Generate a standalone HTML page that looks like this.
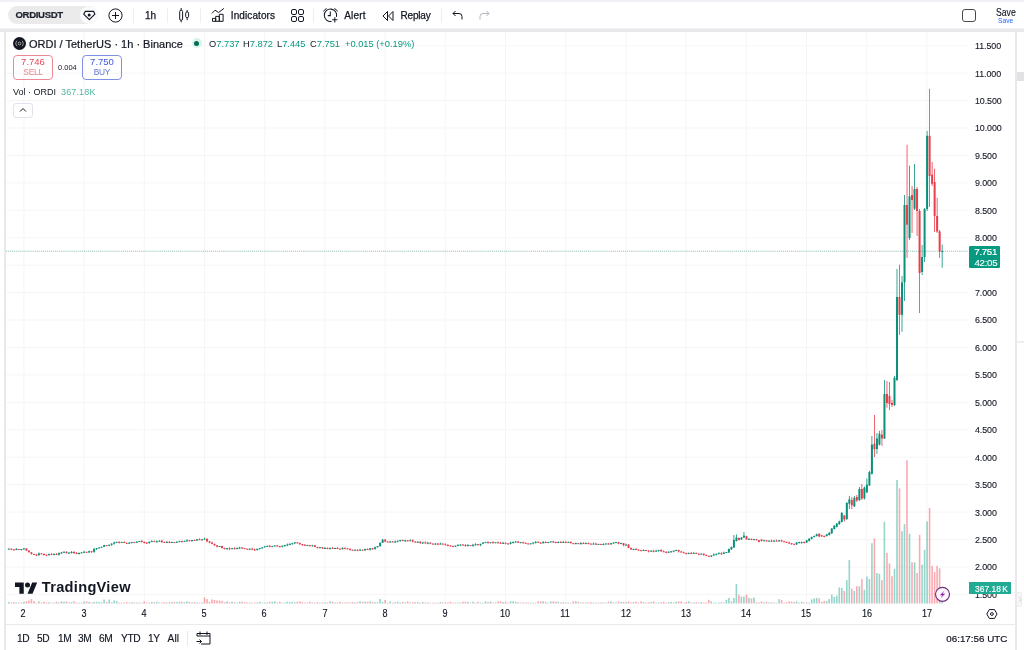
<!DOCTYPE html>
<html><head><meta charset="utf-8">
<style>
*{box-sizing:border-box;margin:0;padding:0}
html,body{width:1024px;height:650px;overflow:hidden;background:#fff;font-family:"Liberation Sans",sans-serif;color:#131722}
.a{position:absolute;white-space:nowrap}
#topstrip{position:absolute;left:0;top:0;width:1024px;height:2px;background:#f1f0f5}
#gap{position:absolute;left:0;top:29px;width:1024px;height:3px;background:#e8e8eb;box-shadow:0 -1px 0 #f2f2f4}
#lline{position:absolute;left:4px;top:29px;width:2px;height:621px;background:#e9e9ec}
#rline{position:absolute;left:1015px;top:29px;width:2px;height:621px;background:#e9e9ec}
.sep{position:absolute;top:8px;width:1px;height:15px;background:#eeeef1}
.tb{font-size:11px;color:#131722;-webkit-text-stroke:0.25px #131722}
.pl{position:absolute;left:974.8px;font-size:9.9px;letter-spacing:-0.1px;transform:scaleX(0.9);transform-origin:0 0;color:#131722;-webkit-text-stroke:0.12px #131722}
.tl{position:absolute;top:608.1px;width:30px;text-align:center;font-size:10.3px;transform:scaleX(0.88);color:#131722;-webkit-text-stroke:0.15px #131722}
.ohlc{top:38.5px;font-size:9.3px;color:#089981}
.bb{position:absolute;top:633.4px;font-size:10.2px;letter-spacing:-0.35px;color:#131722;-webkit-text-stroke:0.15px #131722}
body{filter:blur(0.5px)}
</style></head><body>
<div id="topstrip"></div>

<!-- symbol pill -->
<div class="a" style="left:8px;top:6px;width:90px;height:18px;border-radius:9px;background:#ebebeb"></div>
<div class="a" style="left:15.5px;top:9.2px;font-size:9.6px;font-weight:700;letter-spacing:-0.35px;color:#1e222d;-webkit-text-stroke:0.2px #1e222d">ORDIUSDT</div>
<div class="a" style="left:80px;top:6px;width:18px;height:18px;border-radius:9px;background:#fafafa"></div>
<svg class="a" style="left:83px;top:10px" width="13" height="11" viewBox="0 0 13 11"><path d="M2.3 1.4 H10.7 L11.9 4.2 L6.3 9.6 L0.7 4.2 Z" fill="none" stroke="#131722" stroke-width="1.15" stroke-linejoin="round"/><circle cx="6.2" cy="4.9" r="1.5" fill="#131722"/></svg>
<!-- plus circle -->
<svg class="a" style="left:108px;top:8px" width="15" height="15" viewBox="0 0 15 15"><circle cx="7.5" cy="7.5" r="6.6" fill="none" stroke="#131722" stroke-width="1"/><path d="M7.5 4v7M4 7.5h7" stroke="#131722" stroke-width="1"/></svg>
<div class="sep" style="left:133px"></div>
<div class="a tb" style="left:145px;top:9.5px;font-size:10px">1h</div>
<div class="sep" style="left:167px"></div>
<!-- candle icon -->
<svg class="a" style="left:178px;top:7px" width="13" height="17" viewBox="0 0 13 17"><rect x="1.7" y="3.3" width="2.9" height="9.9" rx="1.2" fill="none" stroke="#131722" stroke-width="1"/><path d="M3.15 1v2.3M3.15 13.2v2.2" stroke="#131722" stroke-width="1"/><rect x="7.7" y="5" width="2.9" height="5.6" rx="1.2" fill="none" stroke="#131722" stroke-width="1"/><path d="M9.15 3v2M9.15 10.6v2.6" stroke="#131722" stroke-width="1"/></svg>
<div class="sep" style="left:200px"></div>
<!-- indicators icon -->
<svg class="a" style="left:211px;top:7px" width="14" height="16" viewBox="0 0 14 16"><path d="M0.9 6.4 L4.1 3.2 L7.6 5.5 L12.9 1.4" fill="none" stroke="#131722" stroke-width="1"/><path d="M1.5 14.3V11.4h3.2v2.9M4.7 14.3V9.4h3.6v4.9M8.3 14.3V7.3h3.8v7H1.5" fill="none" stroke="#131722" stroke-width="1"/></svg>
<div class="a tb" style="left:230.8px;top:10.2px;font-size:10px;letter-spacing:0.1px">Indicators</div>
<!-- layout grid icon -->
<svg class="a" style="left:290.7px;top:9px" width="13" height="13" viewBox="0 0 13 13"><rect x="0.5" y="0.5" width="5" height="5" rx="1.5" fill="none" stroke="#131722"/><rect x="7.5" y="0.5" width="5" height="5" rx="1.5" fill="none" stroke="#131722"/><rect x="0.5" y="7.5" width="5" height="5" rx="1.5" fill="none" stroke="#131722"/><rect x="7.5" y="7.5" width="5" height="5" rx="1.5" fill="none" stroke="#131722"/></svg>
<div class="sep" style="left:313px"></div>
<!-- alert icon -->
<svg class="a" style="left:322px;top:6px" width="18" height="18" viewBox="0 0 18 18"><path d="M14.49 10.9 A6.2 6.2 0 1 0 9.58 15.4" fill="none" stroke="#131722" stroke-width="1.05"/><path d="M8.3 5.6V9.6H5.8" fill="none" stroke="#131722" stroke-width="1.05"/><path d="M1.5 5.4 Q2.5 3.3 4.6 2.6M12.4 2.6 Q14.5 3.3 15.5 5.4" fill="none" stroke="#131722" stroke-width="1"/><path d="M12.8 11.2v5.2M10.2 13.8h5.2" stroke="#131722" stroke-width="1.05"/></svg>
<div class="a tb" style="left:344.2px;top:10.2px;font-size:10px;letter-spacing:0.2px">Alert</div>
<!-- replay icon -->
<svg class="a" style="left:382px;top:10px" width="12" height="12" viewBox="0 0 12 12"><path d="M5.5 1.5 L1 6 L5.5 10.5 Z M11 1.5 L6.5 6 L11 10.5 Z" fill="none" stroke="#131722" stroke-width="1" stroke-linejoin="round"/></svg>
<div class="a tb" style="left:400.5px;top:10.2px;font-size:10px;letter-spacing:-0.2px">Replay</div>
<div class="sep" style="left:441px"></div>
<!-- undo/redo -->
<svg class="a" style="left:452px;top:10px" width="11" height="10" viewBox="0 0 11 10"><path d="M3.5 1 L1 3.5 L3.5 6 M1 3.5 H7 A3 3 0 0 1 10 6.5 V9.5" fill="none" stroke="#131722" stroke-width="1"/></svg>
<svg class="a" style="left:479px;top:10px" width="11" height="10" viewBox="0 0 11 10"><path d="M7.5 1 L10 3.5 L7.5 6 M10 3.5 H4 A3 3 0 0 0 1 6.5 V9.5" fill="none" stroke="#b2b5be" stroke-width="1"/></svg>
<!-- right -->
<div class="a" style="left:962px;top:9px;width:14px;height:13px;border:1.4px solid #4a4a4a;border-radius:3px"></div>
<div class="a" style="left:995.6px;top:6.2px;font-size:10.8px;color:#131722;transform:scaleX(0.8);transform-origin:0 0;-webkit-text-stroke:0.15px #131722">Save</div>
<div class="a" style="left:998.2px;top:16.8px;font-size:7px;color:#2962ff;transform:scaleX(0.95);transform-origin:0 0">Save</div>

<div id="gap"></div>
<div id="lline"></div>
<div id="rline"></div>

<!-- chart svg -->
<svg class="a" style="left:0;top:0" width="1024" height="650" viewBox="0 0 1024 650">
<rect x="6" y="32" width="1009" height="592" fill="#fff"/>
<rect x="23.4" y="32" width="1" height="572" fill="#f5f5f6"/>
<rect x="83.6" y="32" width="1" height="572" fill="#f5f5f6"/>
<rect x="143.8" y="32" width="1" height="572" fill="#f5f5f6"/>
<rect x="204.0" y="32" width="1" height="572" fill="#f5f5f6"/>
<rect x="264.2" y="32" width="1" height="572" fill="#f5f5f6"/>
<rect x="324.4" y="32" width="1" height="572" fill="#f5f5f6"/>
<rect x="384.6" y="32" width="1" height="572" fill="#f5f5f6"/>
<rect x="444.8" y="32" width="1" height="572" fill="#f5f5f6"/>
<rect x="505.0" y="32" width="1" height="572" fill="#f5f5f6"/>
<rect x="565.2" y="32" width="1" height="572" fill="#f5f5f6"/>
<rect x="625.4" y="32" width="1" height="572" fill="#f5f5f6"/>
<rect x="685.6" y="32" width="1" height="572" fill="#f5f5f6"/>
<rect x="745.8" y="32" width="1" height="572" fill="#f5f5f6"/>
<rect x="806.0" y="32" width="1" height="572" fill="#f5f5f6"/>
<rect x="866.2" y="32" width="1" height="572" fill="#f5f5f6"/>
<rect x="926.4" y="32" width="1" height="572" fill="#f5f5f6"/>
<rect x="6" y="45.2" width="962" height="1" fill="#f5f5f6"/>
<rect x="6" y="72.6" width="962" height="1" fill="#f5f5f6"/>
<rect x="6" y="100.1" width="962" height="1" fill="#f5f5f6"/>
<rect x="6" y="127.5" width="962" height="1" fill="#f5f5f6"/>
<rect x="6" y="154.9" width="962" height="1" fill="#f5f5f6"/>
<rect x="6" y="182.4" width="962" height="1" fill="#f5f5f6"/>
<rect x="6" y="209.8" width="962" height="1" fill="#f5f5f6"/>
<rect x="6" y="237.2" width="962" height="1" fill="#f5f5f6"/>
<rect x="6" y="264.7" width="962" height="1" fill="#f5f5f6"/>
<rect x="6" y="292.1" width="962" height="1" fill="#f5f5f6"/>
<rect x="6" y="319.5" width="962" height="1" fill="#f5f5f6"/>
<rect x="6" y="347.0" width="962" height="1" fill="#f5f5f6"/>
<rect x="6" y="374.4" width="962" height="1" fill="#f5f5f6"/>
<rect x="6" y="401.9" width="962" height="1" fill="#f5f5f6"/>
<rect x="6" y="429.3" width="962" height="1" fill="#f5f5f6"/>
<rect x="6" y="456.7" width="962" height="1" fill="#f5f5f6"/>
<rect x="6" y="484.2" width="962" height="1" fill="#f5f5f6"/>
<rect x="6" y="511.6" width="962" height="1" fill="#f5f5f6"/>
<rect x="6" y="539.0" width="962" height="1" fill="#f5f5f6"/>
<rect x="6" y="566.5" width="962" height="1" fill="#f5f5f6"/>
<rect x="6" y="593.9" width="962" height="1" fill="#f5f5f6"/>
<rect x="8.0" y="602.0" width="1.6" height="1.5" fill="rgba(8,153,129,0.42)"/>
<rect x="10.5" y="602.5" width="1.6" height="1.0" fill="rgba(242,54,69,0.42)"/>
<rect x="13.0" y="602.0" width="1.6" height="1.5" fill="rgba(242,54,69,0.42)"/>
<rect x="15.5" y="602.5" width="1.6" height="1.0" fill="rgba(8,153,129,0.42)"/>
<rect x="18.0" y="602.5" width="1.6" height="1.0" fill="rgba(242,54,69,0.42)"/>
<rect x="20.6" y="602.5" width="1.6" height="1.0" fill="rgba(8,153,129,0.42)"/>
<rect x="23.1" y="602.0" width="1.6" height="1.5" fill="rgba(8,153,129,0.42)"/>
<rect x="25.6" y="601.3" width="1.6" height="2.2" fill="rgba(242,54,69,0.42)"/>
<rect x="28.1" y="600.5" width="1.6" height="3.0" fill="rgba(242,54,69,0.42)"/>
<rect x="30.6" y="599.0" width="1.6" height="4.5" fill="rgba(242,54,69,0.42)"/>
<rect x="33.1" y="601.0" width="1.6" height="2.5" fill="rgba(242,54,69,0.42)"/>
<rect x="35.6" y="602.7" width="1.6" height="0.8" fill="rgba(242,54,69,0.42)"/>
<rect x="38.1" y="601.3" width="1.6" height="2.2" fill="rgba(8,153,129,0.42)"/>
<rect x="40.6" y="602.5" width="1.6" height="1.0" fill="rgba(242,54,69,0.42)"/>
<rect x="43.1" y="601.7" width="1.6" height="1.8" fill="rgba(242,54,69,0.42)"/>
<rect x="45.6" y="602.5" width="1.6" height="1.0" fill="rgba(242,54,69,0.42)"/>
<rect x="48.2" y="602.2" width="1.6" height="1.3" fill="rgba(8,153,129,0.42)"/>
<rect x="50.7" y="602.7" width="1.6" height="0.8" fill="rgba(242,54,69,0.42)"/>
<rect x="53.2" y="602.7" width="1.6" height="0.8" fill="rgba(8,153,129,0.42)"/>
<rect x="55.7" y="601.7" width="1.6" height="1.8" fill="rgba(242,54,69,0.42)"/>
<rect x="58.2" y="602.5" width="1.6" height="1.0" fill="rgba(8,153,129,0.42)"/>
<rect x="60.7" y="601.3" width="1.6" height="2.2" fill="rgba(8,153,129,0.42)"/>
<rect x="63.2" y="601.7" width="1.6" height="1.8" fill="rgba(8,153,129,0.42)"/>
<rect x="65.7" y="601.3" width="1.6" height="2.2" fill="rgba(242,54,69,0.42)"/>
<rect x="68.2" y="602.5" width="1.6" height="1.0" fill="rgba(8,153,129,0.42)"/>
<rect x="70.7" y="602.2" width="1.6" height="1.3" fill="rgba(8,153,129,0.42)"/>
<rect x="73.2" y="601.3" width="1.6" height="2.2" fill="rgba(242,54,69,0.42)"/>
<rect x="75.7" y="602.5" width="1.6" height="1.0" fill="rgba(242,54,69,0.42)"/>
<rect x="78.3" y="602.7" width="1.6" height="0.8" fill="rgba(8,153,129,0.42)"/>
<rect x="80.8" y="602.7" width="1.6" height="0.8" fill="rgba(8,153,129,0.42)"/>
<rect x="83.3" y="601.7" width="1.6" height="1.8" fill="rgba(8,153,129,0.42)"/>
<rect x="85.8" y="601.3" width="1.6" height="2.2" fill="rgba(242,54,69,0.42)"/>
<rect x="88.3" y="602.0" width="1.6" height="1.5" fill="rgba(8,153,129,0.42)"/>
<rect x="90.8" y="602.5" width="1.6" height="1.0" fill="rgba(242,54,69,0.42)"/>
<rect x="93.3" y="602.0" width="1.6" height="1.5" fill="rgba(8,153,129,0.42)"/>
<rect x="95.8" y="601.7" width="1.6" height="1.8" fill="rgba(8,153,129,0.42)"/>
<rect x="98.3" y="602.0" width="1.6" height="1.5" fill="rgba(8,153,129,0.42)"/>
<rect x="100.8" y="602.2" width="1.6" height="1.3" fill="rgba(8,153,129,0.42)"/>
<rect x="103.3" y="599.5" width="1.6" height="4.0" fill="rgba(8,153,129,0.42)"/>
<rect x="105.9" y="602.0" width="1.6" height="1.5" fill="rgba(242,54,69,0.42)"/>
<rect x="108.4" y="599.5" width="1.6" height="4.0" fill="rgba(8,153,129,0.42)"/>
<rect x="110.9" y="602.2" width="1.6" height="1.3" fill="rgba(8,153,129,0.42)"/>
<rect x="113.4" y="600.5" width="1.6" height="3.0" fill="rgba(8,153,129,0.42)"/>
<rect x="115.9" y="601.0" width="1.6" height="2.5" fill="rgba(8,153,129,0.42)"/>
<rect x="118.4" y="602.7" width="1.6" height="0.8" fill="rgba(242,54,69,0.42)"/>
<rect x="120.9" y="602.7" width="1.6" height="0.8" fill="rgba(8,153,129,0.42)"/>
<rect x="123.4" y="602.7" width="1.6" height="0.8" fill="rgba(242,54,69,0.42)"/>
<rect x="125.9" y="602.0" width="1.6" height="1.5" fill="rgba(242,54,69,0.42)"/>
<rect x="128.4" y="602.7" width="1.6" height="0.8" fill="rgba(8,153,129,0.42)"/>
<rect x="130.9" y="602.2" width="1.6" height="1.3" fill="rgba(8,153,129,0.42)"/>
<rect x="133.5" y="602.5" width="1.6" height="1.0" fill="rgba(242,54,69,0.42)"/>
<rect x="136.0" y="602.5" width="1.6" height="1.0" fill="rgba(8,153,129,0.42)"/>
<rect x="138.5" y="602.5" width="1.6" height="1.0" fill="rgba(8,153,129,0.42)"/>
<rect x="141.0" y="602.7" width="1.6" height="0.8" fill="rgba(242,54,69,0.42)"/>
<rect x="143.5" y="601.3" width="1.6" height="2.2" fill="rgba(242,54,69,0.42)"/>
<rect x="146.0" y="602.7" width="1.6" height="0.8" fill="rgba(242,54,69,0.42)"/>
<rect x="148.5" y="602.7" width="1.6" height="0.8" fill="rgba(8,153,129,0.42)"/>
<rect x="151.0" y="602.0" width="1.6" height="1.5" fill="rgba(8,153,129,0.42)"/>
<rect x="153.5" y="602.0" width="1.6" height="1.5" fill="rgba(242,54,69,0.42)"/>
<rect x="156.0" y="601.7" width="1.6" height="1.8" fill="rgba(8,153,129,0.42)"/>
<rect x="158.5" y="602.5" width="1.6" height="1.0" fill="rgba(8,153,129,0.42)"/>
<rect x="161.1" y="602.5" width="1.6" height="1.0" fill="rgba(242,54,69,0.42)"/>
<rect x="163.6" y="602.2" width="1.6" height="1.3" fill="rgba(242,54,69,0.42)"/>
<rect x="166.1" y="602.5" width="1.6" height="1.0" fill="rgba(8,153,129,0.42)"/>
<rect x="168.6" y="602.0" width="1.6" height="1.5" fill="rgba(242,54,69,0.42)"/>
<rect x="171.1" y="602.0" width="1.6" height="1.5" fill="rgba(8,153,129,0.42)"/>
<rect x="173.6" y="601.7" width="1.6" height="1.8" fill="rgba(242,54,69,0.42)"/>
<rect x="176.1" y="602.0" width="1.6" height="1.5" fill="rgba(8,153,129,0.42)"/>
<rect x="178.6" y="601.7" width="1.6" height="1.8" fill="rgba(8,153,129,0.42)"/>
<rect x="181.1" y="601.7" width="1.6" height="1.8" fill="rgba(242,54,69,0.42)"/>
<rect x="183.6" y="602.2" width="1.6" height="1.3" fill="rgba(8,153,129,0.42)"/>
<rect x="186.1" y="601.3" width="1.6" height="2.2" fill="rgba(8,153,129,0.42)"/>
<rect x="188.7" y="602.0" width="1.6" height="1.5" fill="rgba(242,54,69,0.42)"/>
<rect x="191.2" y="602.5" width="1.6" height="1.0" fill="rgba(8,153,129,0.42)"/>
<rect x="193.7" y="602.0" width="1.6" height="1.5" fill="rgba(242,54,69,0.42)"/>
<rect x="196.2" y="602.5" width="1.6" height="1.0" fill="rgba(8,153,129,0.42)"/>
<rect x="198.7" y="602.7" width="1.6" height="0.8" fill="rgba(242,54,69,0.42)"/>
<rect x="201.2" y="602.5" width="1.6" height="1.0" fill="rgba(8,153,129,0.42)"/>
<rect x="203.7" y="597.5" width="1.6" height="6.0" fill="rgba(242,54,69,0.42)"/>
<rect x="206.2" y="599.0" width="1.6" height="4.5" fill="rgba(242,54,69,0.42)"/>
<rect x="208.7" y="601.7" width="1.6" height="1.8" fill="rgba(242,54,69,0.42)"/>
<rect x="211.2" y="599.5" width="1.6" height="4.0" fill="rgba(242,54,69,0.42)"/>
<rect x="213.7" y="600.0" width="1.6" height="3.5" fill="rgba(242,54,69,0.42)"/>
<rect x="216.3" y="600.5" width="1.6" height="3.0" fill="rgba(242,54,69,0.42)"/>
<rect x="218.8" y="600.5" width="1.6" height="3.0" fill="rgba(242,54,69,0.42)"/>
<rect x="221.3" y="601.0" width="1.6" height="2.5" fill="rgba(242,54,69,0.42)"/>
<rect x="223.8" y="602.2" width="1.6" height="1.3" fill="rgba(242,54,69,0.42)"/>
<rect x="226.3" y="601.3" width="1.6" height="2.2" fill="rgba(8,153,129,0.42)"/>
<rect x="228.8" y="602.2" width="1.6" height="1.3" fill="rgba(242,54,69,0.42)"/>
<rect x="231.3" y="601.7" width="1.6" height="1.8" fill="rgba(8,153,129,0.42)"/>
<rect x="233.8" y="602.2" width="1.6" height="1.3" fill="rgba(242,54,69,0.42)"/>
<rect x="236.3" y="602.7" width="1.6" height="0.8" fill="rgba(8,153,129,0.42)"/>
<rect x="238.8" y="601.7" width="1.6" height="1.8" fill="rgba(8,153,129,0.42)"/>
<rect x="241.3" y="601.7" width="1.6" height="1.8" fill="rgba(242,54,69,0.42)"/>
<rect x="243.9" y="602.2" width="1.6" height="1.3" fill="rgba(242,54,69,0.42)"/>
<rect x="246.4" y="602.5" width="1.6" height="1.0" fill="rgba(242,54,69,0.42)"/>
<rect x="248.9" y="602.5" width="1.6" height="1.0" fill="rgba(8,153,129,0.42)"/>
<rect x="251.4" y="602.7" width="1.6" height="0.8" fill="rgba(242,54,69,0.42)"/>
<rect x="253.9" y="602.5" width="1.6" height="1.0" fill="rgba(242,54,69,0.42)"/>
<rect x="256.4" y="602.5" width="1.6" height="1.0" fill="rgba(8,153,129,0.42)"/>
<rect x="258.9" y="601.7" width="1.6" height="1.8" fill="rgba(8,153,129,0.42)"/>
<rect x="261.4" y="602.7" width="1.6" height="0.8" fill="rgba(8,153,129,0.42)"/>
<rect x="263.9" y="602.7" width="1.6" height="0.8" fill="rgba(8,153,129,0.42)"/>
<rect x="266.4" y="602.5" width="1.6" height="1.0" fill="rgba(8,153,129,0.42)"/>
<rect x="268.9" y="601.7" width="1.6" height="1.8" fill="rgba(242,54,69,0.42)"/>
<rect x="271.5" y="601.7" width="1.6" height="1.8" fill="rgba(8,153,129,0.42)"/>
<rect x="274.0" y="601.3" width="1.6" height="2.2" fill="rgba(8,153,129,0.42)"/>
<rect x="276.5" y="602.5" width="1.6" height="1.0" fill="rgba(242,54,69,0.42)"/>
<rect x="279.0" y="601.7" width="1.6" height="1.8" fill="rgba(242,54,69,0.42)"/>
<rect x="281.5" y="602.7" width="1.6" height="0.8" fill="rgba(8,153,129,0.42)"/>
<rect x="284.0" y="602.5" width="1.6" height="1.0" fill="rgba(8,153,129,0.42)"/>
<rect x="286.5" y="601.7" width="1.6" height="1.8" fill="rgba(8,153,129,0.42)"/>
<rect x="289.0" y="602.0" width="1.6" height="1.5" fill="rgba(8,153,129,0.42)"/>
<rect x="291.5" y="601.7" width="1.6" height="1.8" fill="rgba(8,153,129,0.42)"/>
<rect x="294.0" y="602.2" width="1.6" height="1.3" fill="rgba(8,153,129,0.42)"/>
<rect x="296.5" y="601.7" width="1.6" height="1.8" fill="rgba(242,54,69,0.42)"/>
<rect x="299.1" y="601.3" width="1.6" height="2.2" fill="rgba(242,54,69,0.42)"/>
<rect x="301.6" y="602.0" width="1.6" height="1.5" fill="rgba(242,54,69,0.42)"/>
<rect x="304.1" y="602.5" width="1.6" height="1.0" fill="rgba(242,54,69,0.42)"/>
<rect x="306.6" y="602.5" width="1.6" height="1.0" fill="rgba(8,153,129,0.42)"/>
<rect x="309.1" y="601.7" width="1.6" height="1.8" fill="rgba(242,54,69,0.42)"/>
<rect x="311.6" y="602.5" width="1.6" height="1.0" fill="rgba(8,153,129,0.42)"/>
<rect x="314.1" y="602.7" width="1.6" height="0.8" fill="rgba(242,54,69,0.42)"/>
<rect x="316.6" y="602.0" width="1.6" height="1.5" fill="rgba(242,54,69,0.42)"/>
<rect x="319.1" y="602.7" width="1.6" height="0.8" fill="rgba(8,153,129,0.42)"/>
<rect x="321.6" y="602.5" width="1.6" height="1.0" fill="rgba(242,54,69,0.42)"/>
<rect x="324.1" y="602.5" width="1.6" height="1.0" fill="rgba(8,153,129,0.42)"/>
<rect x="326.6" y="602.5" width="1.6" height="1.0" fill="rgba(242,54,69,0.42)"/>
<rect x="329.2" y="601.3" width="1.6" height="2.2" fill="rgba(8,153,129,0.42)"/>
<rect x="331.7" y="601.7" width="1.6" height="1.8" fill="rgba(242,54,69,0.42)"/>
<rect x="334.2" y="602.5" width="1.6" height="1.0" fill="rgba(8,153,129,0.42)"/>
<rect x="336.7" y="602.5" width="1.6" height="1.0" fill="rgba(242,54,69,0.42)"/>
<rect x="339.2" y="601.7" width="1.6" height="1.8" fill="rgba(242,54,69,0.42)"/>
<rect x="341.7" y="602.5" width="1.6" height="1.0" fill="rgba(8,153,129,0.42)"/>
<rect x="344.2" y="602.5" width="1.6" height="1.0" fill="rgba(242,54,69,0.42)"/>
<rect x="346.7" y="602.2" width="1.6" height="1.3" fill="rgba(242,54,69,0.42)"/>
<rect x="349.2" y="602.5" width="1.6" height="1.0" fill="rgba(242,54,69,0.42)"/>
<rect x="351.7" y="602.0" width="1.6" height="1.5" fill="rgba(242,54,69,0.42)"/>
<rect x="354.2" y="602.5" width="1.6" height="1.0" fill="rgba(8,153,129,0.42)"/>
<rect x="356.8" y="602.2" width="1.6" height="1.3" fill="rgba(242,54,69,0.42)"/>
<rect x="359.3" y="601.3" width="1.6" height="2.2" fill="rgba(8,153,129,0.42)"/>
<rect x="361.8" y="601.7" width="1.6" height="1.8" fill="rgba(242,54,69,0.42)"/>
<rect x="364.3" y="601.7" width="1.6" height="1.8" fill="rgba(8,153,129,0.42)"/>
<rect x="366.8" y="601.7" width="1.6" height="1.8" fill="rgba(242,54,69,0.42)"/>
<rect x="369.3" y="601.3" width="1.6" height="2.2" fill="rgba(8,153,129,0.42)"/>
<rect x="371.8" y="602.0" width="1.6" height="1.5" fill="rgba(242,54,69,0.42)"/>
<rect x="374.3" y="602.2" width="1.6" height="1.3" fill="rgba(8,153,129,0.42)"/>
<rect x="376.8" y="602.2" width="1.6" height="1.3" fill="rgba(8,153,129,0.42)"/>
<rect x="379.3" y="599.0" width="1.6" height="4.5" fill="rgba(8,153,129,0.42)"/>
<rect x="381.8" y="602.0" width="1.6" height="1.5" fill="rgba(8,153,129,0.42)"/>
<rect x="384.4" y="600.0" width="1.6" height="3.5" fill="rgba(242,54,69,0.42)"/>
<rect x="386.9" y="602.7" width="1.6" height="0.8" fill="rgba(242,54,69,0.42)"/>
<rect x="389.4" y="601.3" width="1.6" height="2.2" fill="rgba(8,153,129,0.42)"/>
<rect x="391.9" y="602.7" width="1.6" height="0.8" fill="rgba(242,54,69,0.42)"/>
<rect x="394.4" y="602.2" width="1.6" height="1.3" fill="rgba(8,153,129,0.42)"/>
<rect x="396.9" y="601.7" width="1.6" height="1.8" fill="rgba(8,153,129,0.42)"/>
<rect x="399.4" y="602.5" width="1.6" height="1.0" fill="rgba(8,153,129,0.42)"/>
<rect x="401.9" y="602.0" width="1.6" height="1.5" fill="rgba(242,54,69,0.42)"/>
<rect x="404.4" y="602.5" width="1.6" height="1.0" fill="rgba(8,153,129,0.42)"/>
<rect x="406.9" y="601.3" width="1.6" height="2.2" fill="rgba(242,54,69,0.42)"/>
<rect x="409.4" y="602.5" width="1.6" height="1.0" fill="rgba(8,153,129,0.42)"/>
<rect x="412.0" y="602.2" width="1.6" height="1.3" fill="rgba(242,54,69,0.42)"/>
<rect x="414.5" y="602.0" width="1.6" height="1.5" fill="rgba(242,54,69,0.42)"/>
<rect x="417.0" y="602.0" width="1.6" height="1.5" fill="rgba(8,153,129,0.42)"/>
<rect x="419.5" y="602.7" width="1.6" height="0.8" fill="rgba(242,54,69,0.42)"/>
<rect x="422.0" y="602.0" width="1.6" height="1.5" fill="rgba(8,153,129,0.42)"/>
<rect x="424.5" y="602.5" width="1.6" height="1.0" fill="rgba(242,54,69,0.42)"/>
<rect x="427.0" y="602.5" width="1.6" height="1.0" fill="rgba(8,153,129,0.42)"/>
<rect x="429.5" y="602.7" width="1.6" height="0.8" fill="rgba(242,54,69,0.42)"/>
<rect x="432.0" y="602.7" width="1.6" height="0.8" fill="rgba(242,54,69,0.42)"/>
<rect x="434.5" y="602.7" width="1.6" height="0.8" fill="rgba(8,153,129,0.42)"/>
<rect x="437.0" y="602.7" width="1.6" height="0.8" fill="rgba(242,54,69,0.42)"/>
<rect x="439.6" y="602.0" width="1.6" height="1.5" fill="rgba(8,153,129,0.42)"/>
<rect x="442.1" y="602.5" width="1.6" height="1.0" fill="rgba(242,54,69,0.42)"/>
<rect x="444.6" y="602.5" width="1.6" height="1.0" fill="rgba(242,54,69,0.42)"/>
<rect x="447.1" y="602.5" width="1.6" height="1.0" fill="rgba(242,54,69,0.42)"/>
<rect x="449.6" y="601.7" width="1.6" height="1.8" fill="rgba(242,54,69,0.42)"/>
<rect x="452.1" y="602.7" width="1.6" height="0.8" fill="rgba(242,54,69,0.42)"/>
<rect x="454.6" y="602.7" width="1.6" height="0.8" fill="rgba(8,153,129,0.42)"/>
<rect x="457.1" y="602.7" width="1.6" height="0.8" fill="rgba(8,153,129,0.42)"/>
<rect x="459.6" y="602.5" width="1.6" height="1.0" fill="rgba(8,153,129,0.42)"/>
<rect x="462.1" y="601.7" width="1.6" height="1.8" fill="rgba(242,54,69,0.42)"/>
<rect x="464.6" y="601.7" width="1.6" height="1.8" fill="rgba(242,54,69,0.42)"/>
<rect x="467.2" y="601.7" width="1.6" height="1.8" fill="rgba(8,153,129,0.42)"/>
<rect x="469.7" y="602.7" width="1.6" height="0.8" fill="rgba(242,54,69,0.42)"/>
<rect x="472.2" y="601.7" width="1.6" height="1.8" fill="rgba(8,153,129,0.42)"/>
<rect x="474.7" y="602.7" width="1.6" height="0.8" fill="rgba(8,153,129,0.42)"/>
<rect x="477.2" y="601.7" width="1.6" height="1.8" fill="rgba(242,54,69,0.42)"/>
<rect x="479.7" y="602.7" width="1.6" height="0.8" fill="rgba(8,153,129,0.42)"/>
<rect x="482.2" y="602.7" width="1.6" height="0.8" fill="rgba(8,153,129,0.42)"/>
<rect x="484.7" y="601.3" width="1.6" height="2.2" fill="rgba(8,153,129,0.42)"/>
<rect x="487.2" y="602.0" width="1.6" height="1.5" fill="rgba(242,54,69,0.42)"/>
<rect x="489.7" y="601.3" width="1.6" height="2.2" fill="rgba(8,153,129,0.42)"/>
<rect x="492.2" y="602.5" width="1.6" height="1.0" fill="rgba(242,54,69,0.42)"/>
<rect x="494.8" y="602.5" width="1.6" height="1.0" fill="rgba(8,153,129,0.42)"/>
<rect x="497.3" y="601.3" width="1.6" height="2.2" fill="rgba(242,54,69,0.42)"/>
<rect x="499.8" y="601.3" width="1.6" height="2.2" fill="rgba(242,54,69,0.42)"/>
<rect x="502.3" y="602.0" width="1.6" height="1.5" fill="rgba(8,153,129,0.42)"/>
<rect x="504.8" y="601.7" width="1.6" height="1.8" fill="rgba(242,54,69,0.42)"/>
<rect x="507.3" y="602.7" width="1.6" height="0.8" fill="rgba(242,54,69,0.42)"/>
<rect x="509.8" y="601.3" width="1.6" height="2.2" fill="rgba(8,153,129,0.42)"/>
<rect x="512.3" y="601.3" width="1.6" height="2.2" fill="rgba(8,153,129,0.42)"/>
<rect x="514.8" y="601.7" width="1.6" height="1.8" fill="rgba(8,153,129,0.42)"/>
<rect x="517.3" y="602.2" width="1.6" height="1.3" fill="rgba(242,54,69,0.42)"/>
<rect x="519.8" y="602.7" width="1.6" height="0.8" fill="rgba(8,153,129,0.42)"/>
<rect x="522.4" y="602.5" width="1.6" height="1.0" fill="rgba(242,54,69,0.42)"/>
<rect x="524.9" y="602.5" width="1.6" height="1.0" fill="rgba(242,54,69,0.42)"/>
<rect x="527.4" y="602.5" width="1.6" height="1.0" fill="rgba(242,54,69,0.42)"/>
<rect x="529.9" y="602.7" width="1.6" height="0.8" fill="rgba(8,153,129,0.42)"/>
<rect x="532.4" y="602.7" width="1.6" height="0.8" fill="rgba(8,153,129,0.42)"/>
<rect x="534.9" y="602.7" width="1.6" height="0.8" fill="rgba(8,153,129,0.42)"/>
<rect x="537.4" y="601.3" width="1.6" height="2.2" fill="rgba(242,54,69,0.42)"/>
<rect x="539.9" y="601.3" width="1.6" height="2.2" fill="rgba(242,54,69,0.42)"/>
<rect x="542.4" y="601.3" width="1.6" height="2.2" fill="rgba(8,153,129,0.42)"/>
<rect x="544.9" y="601.7" width="1.6" height="1.8" fill="rgba(242,54,69,0.42)"/>
<rect x="547.4" y="602.7" width="1.6" height="0.8" fill="rgba(8,153,129,0.42)"/>
<rect x="550.0" y="601.3" width="1.6" height="2.2" fill="rgba(8,153,129,0.42)"/>
<rect x="552.5" y="601.3" width="1.6" height="2.2" fill="rgba(242,54,69,0.42)"/>
<rect x="555.0" y="601.7" width="1.6" height="1.8" fill="rgba(242,54,69,0.42)"/>
<rect x="557.5" y="601.7" width="1.6" height="1.8" fill="rgba(8,153,129,0.42)"/>
<rect x="560.0" y="602.5" width="1.6" height="1.0" fill="rgba(242,54,69,0.42)"/>
<rect x="562.5" y="602.2" width="1.6" height="1.3" fill="rgba(8,153,129,0.42)"/>
<rect x="565.0" y="602.7" width="1.6" height="0.8" fill="rgba(242,54,69,0.42)"/>
<rect x="567.5" y="602.5" width="1.6" height="1.0" fill="rgba(8,153,129,0.42)"/>
<rect x="570.0" y="602.7" width="1.6" height="0.8" fill="rgba(242,54,69,0.42)"/>
<rect x="572.5" y="601.3" width="1.6" height="2.2" fill="rgba(242,54,69,0.42)"/>
<rect x="575.0" y="601.3" width="1.6" height="2.2" fill="rgba(8,153,129,0.42)"/>
<rect x="577.5" y="601.7" width="1.6" height="1.8" fill="rgba(242,54,69,0.42)"/>
<rect x="580.1" y="602.5" width="1.6" height="1.0" fill="rgba(8,153,129,0.42)"/>
<rect x="582.6" y="602.5" width="1.6" height="1.0" fill="rgba(242,54,69,0.42)"/>
<rect x="585.1" y="602.5" width="1.6" height="1.0" fill="rgba(8,153,129,0.42)"/>
<rect x="587.6" y="602.5" width="1.6" height="1.0" fill="rgba(242,54,69,0.42)"/>
<rect x="590.1" y="602.2" width="1.6" height="1.3" fill="rgba(242,54,69,0.42)"/>
<rect x="592.6" y="602.5" width="1.6" height="1.0" fill="rgba(8,153,129,0.42)"/>
<rect x="595.1" y="602.7" width="1.6" height="0.8" fill="rgba(242,54,69,0.42)"/>
<rect x="597.6" y="602.5" width="1.6" height="1.0" fill="rgba(8,153,129,0.42)"/>
<rect x="600.1" y="602.5" width="1.6" height="1.0" fill="rgba(242,54,69,0.42)"/>
<rect x="602.6" y="602.5" width="1.6" height="1.0" fill="rgba(8,153,129,0.42)"/>
<rect x="605.1" y="602.7" width="1.6" height="0.8" fill="rgba(8,153,129,0.42)"/>
<rect x="607.7" y="601.7" width="1.6" height="1.8" fill="rgba(242,54,69,0.42)"/>
<rect x="610.2" y="601.3" width="1.6" height="2.2" fill="rgba(8,153,129,0.42)"/>
<rect x="612.7" y="602.5" width="1.6" height="1.0" fill="rgba(8,153,129,0.42)"/>
<rect x="615.2" y="602.5" width="1.6" height="1.0" fill="rgba(8,153,129,0.42)"/>
<rect x="617.7" y="601.3" width="1.6" height="2.2" fill="rgba(242,54,69,0.42)"/>
<rect x="620.2" y="602.0" width="1.6" height="1.5" fill="rgba(8,153,129,0.42)"/>
<rect x="622.7" y="602.0" width="1.6" height="1.5" fill="rgba(242,54,69,0.42)"/>
<rect x="625.2" y="602.2" width="1.6" height="1.3" fill="rgba(8,153,129,0.42)"/>
<rect x="627.7" y="601.3" width="1.6" height="2.2" fill="rgba(242,54,69,0.42)"/>
<rect x="630.2" y="602.5" width="1.6" height="1.0" fill="rgba(242,54,69,0.42)"/>
<rect x="632.7" y="602.0" width="1.6" height="1.5" fill="rgba(8,153,129,0.42)"/>
<rect x="635.3" y="601.7" width="1.6" height="1.8" fill="rgba(242,54,69,0.42)"/>
<rect x="637.8" y="602.7" width="1.6" height="0.8" fill="rgba(242,54,69,0.42)"/>
<rect x="640.3" y="601.3" width="1.6" height="2.2" fill="rgba(242,54,69,0.42)"/>
<rect x="642.8" y="602.2" width="1.6" height="1.3" fill="rgba(8,153,129,0.42)"/>
<rect x="645.3" y="602.7" width="1.6" height="0.8" fill="rgba(242,54,69,0.42)"/>
<rect x="647.8" y="602.2" width="1.6" height="1.3" fill="rgba(242,54,69,0.42)"/>
<rect x="650.3" y="602.0" width="1.6" height="1.5" fill="rgba(8,153,129,0.42)"/>
<rect x="652.8" y="601.3" width="1.6" height="2.2" fill="rgba(242,54,69,0.42)"/>
<rect x="655.3" y="602.7" width="1.6" height="0.8" fill="rgba(8,153,129,0.42)"/>
<rect x="657.8" y="602.5" width="1.6" height="1.0" fill="rgba(8,153,129,0.42)"/>
<rect x="660.3" y="602.2" width="1.6" height="1.3" fill="rgba(242,54,69,0.42)"/>
<rect x="662.9" y="601.7" width="1.6" height="1.8" fill="rgba(242,54,69,0.42)"/>
<rect x="665.4" y="602.7" width="1.6" height="0.8" fill="rgba(242,54,69,0.42)"/>
<rect x="667.9" y="602.0" width="1.6" height="1.5" fill="rgba(8,153,129,0.42)"/>
<rect x="670.4" y="602.0" width="1.6" height="1.5" fill="rgba(8,153,129,0.42)"/>
<rect x="672.9" y="602.5" width="1.6" height="1.0" fill="rgba(8,153,129,0.42)"/>
<rect x="675.4" y="601.7" width="1.6" height="1.8" fill="rgba(8,153,129,0.42)"/>
<rect x="677.9" y="601.3" width="1.6" height="2.2" fill="rgba(242,54,69,0.42)"/>
<rect x="680.4" y="601.3" width="1.6" height="2.2" fill="rgba(242,54,69,0.42)"/>
<rect x="682.9" y="602.7" width="1.6" height="0.8" fill="rgba(242,54,69,0.42)"/>
<rect x="685.4" y="602.0" width="1.6" height="1.5" fill="rgba(242,54,69,0.42)"/>
<rect x="687.9" y="601.3" width="1.6" height="2.2" fill="rgba(8,153,129,0.42)"/>
<rect x="690.5" y="602.5" width="1.6" height="1.0" fill="rgba(242,54,69,0.42)"/>
<rect x="693.0" y="602.5" width="1.6" height="1.0" fill="rgba(8,153,129,0.42)"/>
<rect x="695.5" y="602.2" width="1.6" height="1.3" fill="rgba(242,54,69,0.42)"/>
<rect x="698.0" y="602.7" width="1.6" height="0.8" fill="rgba(242,54,69,0.42)"/>
<rect x="700.5" y="602.0" width="1.6" height="1.5" fill="rgba(8,153,129,0.42)"/>
<rect x="703.0" y="602.5" width="1.6" height="1.0" fill="rgba(242,54,69,0.42)"/>
<rect x="705.5" y="602.5" width="1.6" height="1.0" fill="rgba(242,54,69,0.42)"/>
<rect x="708.0" y="599.8" width="1.6" height="3.7" fill="rgba(242,54,69,0.42)"/>
<rect x="710.5" y="601.3" width="1.6" height="2.2" fill="rgba(8,153,129,0.42)"/>
<rect x="713.0" y="602.7" width="1.6" height="0.8" fill="rgba(8,153,129,0.42)"/>
<rect x="715.5" y="602.7" width="1.6" height="0.8" fill="rgba(8,153,129,0.42)"/>
<rect x="718.1" y="602.5" width="1.6" height="1.0" fill="rgba(8,153,129,0.42)"/>
<rect x="720.6" y="602.2" width="1.6" height="1.3" fill="rgba(242,54,69,0.42)"/>
<rect x="723.1" y="602.7" width="1.6" height="0.8" fill="rgba(8,153,129,0.42)"/>
<rect x="725.6" y="599.8" width="1.6" height="3.7" fill="rgba(8,153,129,0.42)"/>
<rect x="728.1" y="597.9" width="1.6" height="5.6" fill="rgba(8,153,129,0.42)"/>
<rect x="730.6" y="601.3" width="1.6" height="2.2" fill="rgba(8,153,129,0.42)"/>
<rect x="733.1" y="597.9" width="1.6" height="5.6" fill="rgba(8,153,129,0.42)"/>
<rect x="735.6" y="583.9" width="1.6" height="19.6" fill="rgba(8,153,129,0.42)"/>
<rect x="738.1" y="594.7" width="1.6" height="8.8" fill="rgba(242,54,69,0.42)"/>
<rect x="740.6" y="596.6" width="1.6" height="6.9" fill="rgba(8,153,129,0.42)"/>
<rect x="743.1" y="596.6" width="1.6" height="6.9" fill="rgba(8,153,129,0.42)"/>
<rect x="745.7" y="594.7" width="1.6" height="8.8" fill="rgba(242,54,69,0.42)"/>
<rect x="748.2" y="597.9" width="1.6" height="5.6" fill="rgba(8,153,129,0.42)"/>
<rect x="750.7" y="598.5" width="1.6" height="5.0" fill="rgba(242,54,69,0.42)"/>
<rect x="753.2" y="597.5" width="1.6" height="6.0" fill="rgba(8,153,129,0.42)"/>
<rect x="755.7" y="602.5" width="1.6" height="1.0" fill="rgba(242,54,69,0.42)"/>
<rect x="758.2" y="602.5" width="1.6" height="1.0" fill="rgba(242,54,69,0.42)"/>
<rect x="760.7" y="601.3" width="1.6" height="2.2" fill="rgba(242,54,69,0.42)"/>
<rect x="763.2" y="602.5" width="1.6" height="1.0" fill="rgba(8,153,129,0.42)"/>
<rect x="765.7" y="601.7" width="1.6" height="1.8" fill="rgba(242,54,69,0.42)"/>
<rect x="768.2" y="602.5" width="1.6" height="1.0" fill="rgba(8,153,129,0.42)"/>
<rect x="770.7" y="602.2" width="1.6" height="1.3" fill="rgba(242,54,69,0.42)"/>
<rect x="773.3" y="602.5" width="1.6" height="1.0" fill="rgba(8,153,129,0.42)"/>
<rect x="775.8" y="602.7" width="1.6" height="0.8" fill="rgba(242,54,69,0.42)"/>
<rect x="778.3" y="599.1" width="1.6" height="4.4" fill="rgba(8,153,129,0.42)"/>
<rect x="780.8" y="600.0" width="1.6" height="3.5" fill="rgba(242,54,69,0.42)"/>
<rect x="783.3" y="602.7" width="1.6" height="0.8" fill="rgba(242,54,69,0.42)"/>
<rect x="785.8" y="602.2" width="1.6" height="1.3" fill="rgba(242,54,69,0.42)"/>
<rect x="788.3" y="601.3" width="1.6" height="2.2" fill="rgba(242,54,69,0.42)"/>
<rect x="790.8" y="601.7" width="1.6" height="1.8" fill="rgba(242,54,69,0.42)"/>
<rect x="793.3" y="602.0" width="1.6" height="1.5" fill="rgba(242,54,69,0.42)"/>
<rect x="795.8" y="601.3" width="1.6" height="2.2" fill="rgba(8,153,129,0.42)"/>
<rect x="798.3" y="602.7" width="1.6" height="0.8" fill="rgba(8,153,129,0.42)"/>
<rect x="800.9" y="601.7" width="1.6" height="1.8" fill="rgba(8,153,129,0.42)"/>
<rect x="803.4" y="602.5" width="1.6" height="1.0" fill="rgba(242,54,69,0.42)"/>
<rect x="805.9" y="602.5" width="1.6" height="1.0" fill="rgba(8,153,129,0.42)"/>
<rect x="808.4" y="602.7" width="1.6" height="0.8" fill="rgba(8,153,129,0.42)"/>
<rect x="810.9" y="599.5" width="1.6" height="4.0" fill="rgba(8,153,129,0.42)"/>
<rect x="813.4" y="598.5" width="1.6" height="5.0" fill="rgba(8,153,129,0.42)"/>
<rect x="815.9" y="597.9" width="1.6" height="5.6" fill="rgba(8,153,129,0.42)"/>
<rect x="818.4" y="598.5" width="1.6" height="5.0" fill="rgba(242,54,69,0.42)"/>
<rect x="820.9" y="601.7" width="1.6" height="1.8" fill="rgba(242,54,69,0.42)"/>
<rect x="823.4" y="601.0" width="1.6" height="2.5" fill="rgba(242,54,69,0.42)"/>
<rect x="825.9" y="601.0" width="1.6" height="2.5" fill="rgba(8,153,129,0.42)"/>
<rect x="828.4" y="599.0" width="1.6" height="4.5" fill="rgba(8,153,129,0.42)"/>
<rect x="831.0" y="594.5" width="1.6" height="9.0" fill="rgba(8,153,129,0.42)"/>
<rect x="833.5" y="596.9" width="1.6" height="6.6" fill="rgba(8,153,129,0.42)"/>
<rect x="836.0" y="595.7" width="1.6" height="7.8" fill="rgba(8,153,129,0.42)"/>
<rect x="838.5" y="587.4" width="1.6" height="16.1" fill="rgba(8,153,129,0.42)"/>
<rect x="841.0" y="588.0" width="1.6" height="15.5" fill="rgba(8,153,129,0.42)"/>
<rect x="843.5" y="591.0" width="1.6" height="12.5" fill="rgba(242,54,69,0.42)"/>
<rect x="846.0" y="580.2" width="1.6" height="23.3" fill="rgba(8,153,129,0.42)"/>
<rect x="848.5" y="560.0" width="1.6" height="43.5" fill="rgba(8,153,129,0.42)"/>
<rect x="851.0" y="588.6" width="1.6" height="14.9" fill="rgba(242,54,69,0.42)"/>
<rect x="853.5" y="591.0" width="1.6" height="12.5" fill="rgba(8,153,129,0.42)"/>
<rect x="856.0" y="586.2" width="1.6" height="17.3" fill="rgba(242,54,69,0.42)"/>
<rect x="858.6" y="586.2" width="1.6" height="17.3" fill="rgba(8,153,129,0.42)"/>
<rect x="861.1" y="579.0" width="1.6" height="24.5" fill="rgba(242,54,69,0.42)"/>
<rect x="863.6" y="589.7" width="1.6" height="13.8" fill="rgba(8,153,129,0.42)"/>
<rect x="866.1" y="576.6" width="1.6" height="26.9" fill="rgba(8,153,129,0.42)"/>
<rect x="868.6" y="579.0" width="1.6" height="24.5" fill="rgba(8,153,129,0.42)"/>
<rect x="871.1" y="543.2" width="1.6" height="60.3" fill="rgba(8,153,129,0.42)"/>
<rect x="873.6" y="538.5" width="1.6" height="65.0" fill="rgba(242,54,69,0.42)"/>
<rect x="876.1" y="573.0" width="1.6" height="30.5" fill="rgba(8,153,129,0.42)"/>
<rect x="878.6" y="573.8" width="1.6" height="29.7" fill="rgba(8,153,129,0.42)"/>
<rect x="881.1" y="580.2" width="1.6" height="23.3" fill="rgba(242,54,69,0.42)"/>
<rect x="883.6" y="521.8" width="1.6" height="81.7" fill="rgba(8,153,129,0.42)"/>
<rect x="886.2" y="552.8" width="1.6" height="50.7" fill="rgba(242,54,69,0.42)"/>
<rect x="888.7" y="563.5" width="1.6" height="40.0" fill="rgba(242,54,69,0.42)"/>
<rect x="891.2" y="576.2" width="1.6" height="27.3" fill="rgba(242,54,69,0.42)"/>
<rect x="893.7" y="569.0" width="1.6" height="34.5" fill="rgba(8,153,129,0.42)"/>
<rect x="896.2" y="480.0" width="1.6" height="123.5" fill="rgba(8,153,129,0.42)"/>
<rect x="898.7" y="488.4" width="1.6" height="115.1" fill="rgba(242,54,69,0.42)"/>
<rect x="901.2" y="531.3" width="1.6" height="72.2" fill="rgba(8,153,129,0.42)"/>
<rect x="903.7" y="524.2" width="1.6" height="79.3" fill="rgba(8,153,129,0.42)"/>
<rect x="906.2" y="460.2" width="1.6" height="143.3" fill="rgba(242,54,69,0.42)"/>
<rect x="908.7" y="533.7" width="1.6" height="69.8" fill="rgba(8,153,129,0.42)"/>
<rect x="911.2" y="562.3" width="1.6" height="41.2" fill="rgba(242,54,69,0.42)"/>
<rect x="913.8" y="562.3" width="1.6" height="41.2" fill="rgba(8,153,129,0.42)"/>
<rect x="916.3" y="573.0" width="1.6" height="30.5" fill="rgba(242,54,69,0.42)"/>
<rect x="918.8" y="534.9" width="1.6" height="68.6" fill="rgba(242,54,69,0.42)"/>
<rect x="921.3" y="564.7" width="1.6" height="38.8" fill="rgba(8,153,129,0.42)"/>
<rect x="923.8" y="549.9" width="1.6" height="53.6" fill="rgba(8,153,129,0.42)"/>
<rect x="926.3" y="521.3" width="1.6" height="82.2" fill="rgba(8,153,129,0.42)"/>
<rect x="928.8" y="508.0" width="1.6" height="95.5" fill="rgba(242,54,69,0.42)"/>
<rect x="931.3" y="565.9" width="1.6" height="37.6" fill="rgba(242,54,69,0.42)"/>
<rect x="933.8" y="571.9" width="1.6" height="31.6" fill="rgba(242,54,69,0.42)"/>
<rect x="936.3" y="565.9" width="1.6" height="37.6" fill="rgba(242,54,69,0.42)"/>
<rect x="938.8" y="568.3" width="1.6" height="35.2" fill="rgba(242,54,69,0.42)"/>
<rect x="941.4" y="598.0" width="1.6" height="5.5" fill="rgba(8,153,129,0.42)"/>
<rect x="8.41" y="548.6" width="0.8" height="1.0" fill="#0b9079"/>
<rect x="7.81" y="548.6" width="2.0" height="1.0" fill="#0b9079"/>
<rect x="10.92" y="548.6" width="0.8" height="1.5" fill="#e93e4b"/>
<rect x="10.32" y="548.6" width="2.0" height="1.0" fill="#e93e4b"/>
<rect x="13.42" y="549.2" width="0.8" height="1.0" fill="#e93e4b"/>
<rect x="12.82" y="549.5" width="2.0" height="1.0" fill="#e93e4b"/>
<rect x="15.93" y="548.0" width="0.8" height="2.1" fill="#0b9079"/>
<rect x="15.33" y="549.0" width="2.0" height="1.1" fill="#0b9079"/>
<rect x="18.44" y="549.0" width="0.8" height="1.0" fill="#e93e4b"/>
<rect x="17.84" y="549.0" width="2.0" height="1.0" fill="#e93e4b"/>
<rect x="20.95" y="549.0" width="0.8" height="1.6" fill="#0b9079"/>
<rect x="20.35" y="549.0" width="2.0" height="1.0" fill="#0b9079"/>
<rect x="23.46" y="548.1" width="0.8" height="1.5" fill="#0b9079"/>
<rect x="22.86" y="548.4" width="2.0" height="1.0" fill="#0b9079"/>
<rect x="25.97" y="548.4" width="0.8" height="2.7" fill="#e93e4b"/>
<rect x="25.37" y="548.4" width="2.0" height="2.1" fill="#e93e4b"/>
<rect x="28.48" y="550.2" width="0.8" height="2.1" fill="#e93e4b"/>
<rect x="27.88" y="550.5" width="2.0" height="1.8" fill="#e93e4b"/>
<rect x="30.99" y="552.0" width="0.8" height="2.5" fill="#e93e4b"/>
<rect x="30.39" y="552.3" width="2.0" height="1.6" fill="#e93e4b"/>
<rect x="33.50" y="553.9" width="0.8" height="1.0" fill="#e93e4b"/>
<rect x="32.90" y="553.9" width="2.0" height="1.0" fill="#e93e4b"/>
<rect x="36.01" y="553.9" width="0.8" height="2.2" fill="#e93e4b"/>
<rect x="35.41" y="554.5" width="2.0" height="1.0" fill="#e93e4b"/>
<rect x="38.51" y="552.4" width="0.8" height="3.3" fill="#0b9079"/>
<rect x="37.91" y="553.4" width="2.0" height="1.7" fill="#0b9079"/>
<rect x="41.02" y="553.1" width="0.8" height="1.0" fill="#e93e4b"/>
<rect x="40.42" y="553.4" width="2.0" height="1.0" fill="#e93e4b"/>
<rect x="43.53" y="553.4" width="0.8" height="2.2" fill="#e93e4b"/>
<rect x="42.93" y="554.0" width="2.0" height="1.0" fill="#e93e4b"/>
<rect x="46.04" y="554.6" width="0.8" height="1.6" fill="#e93e4b"/>
<rect x="45.44" y="554.6" width="2.0" height="1.0" fill="#e93e4b"/>
<rect x="48.55" y="553.5" width="0.8" height="2.0" fill="#0b9079"/>
<rect x="47.95" y="554.1" width="2.0" height="1.1" fill="#0b9079"/>
<rect x="51.06" y="553.1" width="0.8" height="1.5" fill="#e93e4b"/>
<rect x="50.46" y="554.1" width="2.0" height="1.0" fill="#e93e4b"/>
<rect x="53.57" y="553.4" width="0.8" height="1.8" fill="#0b9079"/>
<rect x="52.97" y="554.0" width="2.0" height="1.0" fill="#0b9079"/>
<rect x="56.08" y="553.0" width="0.8" height="1.6" fill="#e93e4b"/>
<rect x="55.48" y="554.0" width="2.0" height="1.0" fill="#e93e4b"/>
<rect x="58.59" y="552.4" width="0.8" height="3.2" fill="#0b9079"/>
<rect x="57.99" y="553.0" width="2.0" height="1.6" fill="#0b9079"/>
<rect x="61.10" y="551.8" width="0.8" height="2.2" fill="#0b9079"/>
<rect x="60.50" y="552.4" width="2.0" height="1.0" fill="#0b9079"/>
<rect x="63.60" y="551.2" width="0.8" height="1.2" fill="#0b9079"/>
<rect x="63.00" y="551.8" width="2.0" height="1.0" fill="#0b9079"/>
<rect x="66.11" y="551.2" width="0.8" height="2.3" fill="#e93e4b"/>
<rect x="65.51" y="551.8" width="2.0" height="1.4" fill="#e93e4b"/>
<rect x="68.62" y="552.3" width="0.8" height="1.5" fill="#0b9079"/>
<rect x="68.02" y="552.6" width="2.0" height="1.0" fill="#0b9079"/>
<rect x="71.13" y="551.0" width="0.8" height="2.6" fill="#0b9079"/>
<rect x="70.53" y="552.0" width="2.0" height="1.0" fill="#0b9079"/>
<rect x="73.64" y="551.0" width="0.8" height="3.0" fill="#e93e4b"/>
<rect x="73.04" y="552.0" width="2.0" height="1.0" fill="#e93e4b"/>
<rect x="76.15" y="552.0" width="0.8" height="2.2" fill="#e93e4b"/>
<rect x="75.55" y="553.0" width="2.0" height="1.0" fill="#e93e4b"/>
<rect x="78.66" y="552.4" width="0.8" height="2.2" fill="#0b9079"/>
<rect x="78.06" y="553.0" width="2.0" height="1.0" fill="#0b9079"/>
<rect x="81.17" y="552.1" width="0.8" height="1.2" fill="#0b9079"/>
<rect x="80.57" y="552.4" width="2.0" height="1.0" fill="#0b9079"/>
<rect x="83.68" y="550.8" width="0.8" height="1.9" fill="#0b9079"/>
<rect x="83.08" y="551.8" width="2.0" height="1.0" fill="#0b9079"/>
<rect x="86.19" y="551.8" width="0.8" height="1.0" fill="#e93e4b"/>
<rect x="85.59" y="551.8" width="2.0" height="1.0" fill="#e93e4b"/>
<rect x="88.69" y="550.6" width="0.8" height="2.4" fill="#0b9079"/>
<rect x="88.09" y="551.2" width="2.0" height="1.2" fill="#0b9079"/>
<rect x="91.20" y="551.2" width="0.8" height="1.6" fill="#e93e4b"/>
<rect x="90.60" y="551.2" width="2.0" height="1.0" fill="#e93e4b"/>
<rect x="93.71" y="548.0" width="0.8" height="4.8" fill="#0b9079"/>
<rect x="93.11" y="549.0" width="2.0" height="2.8" fill="#0b9079"/>
<rect x="96.22" y="548.0" width="0.8" height="2.0" fill="#0b9079"/>
<rect x="95.62" y="548.0" width="2.0" height="1.0" fill="#0b9079"/>
<rect x="98.73" y="547.4" width="0.8" height="1.0" fill="#0b9079"/>
<rect x="98.13" y="547.4" width="2.0" height="1.0" fill="#0b9079"/>
<rect x="101.24" y="546.8" width="0.8" height="1.0" fill="#0b9079"/>
<rect x="100.64" y="546.8" width="2.0" height="1.0" fill="#0b9079"/>
<rect x="103.75" y="544.8" width="0.8" height="2.1" fill="#0b9079"/>
<rect x="103.15" y="545.1" width="2.0" height="1.8" fill="#0b9079"/>
<rect x="106.26" y="545.1" width="0.8" height="1.0" fill="#e93e4b"/>
<rect x="105.66" y="545.1" width="2.0" height="1.0" fill="#e93e4b"/>
<rect x="108.77" y="544.5" width="0.8" height="1.8" fill="#0b9079"/>
<rect x="108.17" y="544.8" width="2.0" height="1.0" fill="#0b9079"/>
<rect x="111.28" y="543.1" width="0.8" height="2.7" fill="#0b9079"/>
<rect x="110.68" y="543.7" width="2.0" height="1.1" fill="#0b9079"/>
<rect x="113.78" y="541.5" width="0.8" height="3.1" fill="#0b9079"/>
<rect x="113.18" y="542.5" width="2.0" height="1.1" fill="#0b9079"/>
<rect x="116.29" y="541.6" width="0.8" height="1.0" fill="#0b9079"/>
<rect x="115.69" y="541.9" width="2.0" height="1.0" fill="#0b9079"/>
<rect x="118.80" y="541.3" width="0.8" height="2.2" fill="#e93e4b"/>
<rect x="118.20" y="541.9" width="2.0" height="1.0" fill="#e93e4b"/>
<rect x="121.31" y="541.9" width="0.8" height="1.0" fill="#0b9079"/>
<rect x="120.71" y="541.9" width="2.0" height="1.0" fill="#0b9079"/>
<rect x="123.82" y="541.3" width="0.8" height="1.8" fill="#e93e4b"/>
<rect x="123.22" y="541.9" width="2.0" height="1.0" fill="#e93e4b"/>
<rect x="126.33" y="542.3" width="0.8" height="1.2" fill="#e93e4b"/>
<rect x="125.73" y="542.9" width="2.0" height="1.0" fill="#e93e4b"/>
<rect x="128.84" y="542.1" width="0.8" height="2.0" fill="#0b9079"/>
<rect x="128.24" y="542.7" width="2.0" height="1.0" fill="#0b9079"/>
<rect x="131.35" y="541.8" width="0.8" height="1.5" fill="#0b9079"/>
<rect x="130.75" y="542.1" width="2.0" height="1.0" fill="#0b9079"/>
<rect x="133.86" y="541.8" width="0.8" height="1.2" fill="#e93e4b"/>
<rect x="133.26" y="542.1" width="2.0" height="1.0" fill="#e93e4b"/>
<rect x="136.37" y="541.3" width="0.8" height="1.7" fill="#0b9079"/>
<rect x="135.77" y="541.6" width="2.0" height="1.1" fill="#0b9079"/>
<rect x="138.87" y="541.0" width="0.8" height="1.0" fill="#0b9079"/>
<rect x="138.27" y="541.0" width="2.0" height="1.0" fill="#0b9079"/>
<rect x="141.38" y="540.0" width="0.8" height="2.6" fill="#e93e4b"/>
<rect x="140.78" y="541.0" width="2.0" height="1.0" fill="#e93e4b"/>
<rect x="143.89" y="541.4" width="0.8" height="2.2" fill="#e93e4b"/>
<rect x="143.29" y="542.0" width="2.0" height="1.0" fill="#e93e4b"/>
<rect x="146.40" y="542.0" width="0.8" height="1.8" fill="#e93e4b"/>
<rect x="145.80" y="542.6" width="2.0" height="1.0" fill="#e93e4b"/>
<rect x="148.91" y="541.7" width="0.8" height="1.8" fill="#0b9079"/>
<rect x="148.31" y="541.7" width="2.0" height="1.5" fill="#0b9079"/>
<rect x="151.42" y="540.1" width="0.8" height="1.6" fill="#0b9079"/>
<rect x="150.82" y="541.1" width="2.0" height="1.0" fill="#0b9079"/>
<rect x="153.93" y="540.5" width="0.8" height="1.4" fill="#e93e4b"/>
<rect x="153.33" y="541.1" width="2.0" height="1.0" fill="#e93e4b"/>
<rect x="156.44" y="540.4" width="0.8" height="1.9" fill="#0b9079"/>
<rect x="155.84" y="541.4" width="2.0" height="1.0" fill="#0b9079"/>
<rect x="158.95" y="540.2" width="0.8" height="1.2" fill="#0b9079"/>
<rect x="158.35" y="540.8" width="2.0" height="1.0" fill="#0b9079"/>
<rect x="161.46" y="539.8" width="0.8" height="3.2" fill="#e93e4b"/>
<rect x="160.86" y="540.8" width="2.0" height="1.2" fill="#e93e4b"/>
<rect x="163.96" y="541.6" width="0.8" height="1.2" fill="#e93e4b"/>
<rect x="163.36" y="541.9" width="2.0" height="1.0" fill="#e93e4b"/>
<rect x="166.47" y="540.9" width="0.8" height="1.9" fill="#0b9079"/>
<rect x="165.87" y="541.9" width="2.0" height="1.0" fill="#0b9079"/>
<rect x="168.98" y="540.9" width="0.8" height="2.2" fill="#e93e4b"/>
<rect x="168.38" y="541.9" width="2.0" height="1.0" fill="#e93e4b"/>
<rect x="171.49" y="541.7" width="0.8" height="1.0" fill="#0b9079"/>
<rect x="170.89" y="542.0" width="2.0" height="1.0" fill="#0b9079"/>
<rect x="174.00" y="542.0" width="0.8" height="1.0" fill="#e93e4b"/>
<rect x="173.40" y="542.0" width="2.0" height="1.0" fill="#e93e4b"/>
<rect x="176.51" y="541.4" width="0.8" height="1.5" fill="#0b9079"/>
<rect x="175.91" y="541.7" width="2.0" height="1.0" fill="#0b9079"/>
<rect x="179.02" y="540.8" width="0.8" height="1.4" fill="#0b9079"/>
<rect x="178.42" y="541.1" width="2.0" height="1.0" fill="#0b9079"/>
<rect x="181.53" y="540.5" width="0.8" height="1.8" fill="#e93e4b"/>
<rect x="180.93" y="541.1" width="2.0" height="1.0" fill="#e93e4b"/>
<rect x="184.04" y="540.6" width="0.8" height="1.2" fill="#0b9079"/>
<rect x="183.44" y="540.9" width="2.0" height="1.0" fill="#0b9079"/>
<rect x="186.55" y="539.3" width="0.8" height="2.6" fill="#0b9079"/>
<rect x="185.95" y="540.3" width="2.0" height="1.0" fill="#0b9079"/>
<rect x="189.05" y="540.0" width="0.8" height="1.2" fill="#e93e4b"/>
<rect x="188.45" y="540.3" width="2.0" height="1.0" fill="#e93e4b"/>
<rect x="191.56" y="540.0" width="0.8" height="1.8" fill="#0b9079"/>
<rect x="190.96" y="540.0" width="2.0" height="1.0" fill="#0b9079"/>
<rect x="194.07" y="539.7" width="0.8" height="1.2" fill="#e93e4b"/>
<rect x="193.47" y="540.0" width="2.0" height="1.0" fill="#e93e4b"/>
<rect x="196.58" y="539.3" width="0.8" height="1.3" fill="#0b9079"/>
<rect x="195.98" y="539.3" width="2.0" height="1.3" fill="#0b9079"/>
<rect x="199.09" y="538.3" width="0.8" height="1.6" fill="#e93e4b"/>
<rect x="198.49" y="539.3" width="2.0" height="1.0" fill="#e93e4b"/>
<rect x="201.60" y="539.0" width="0.8" height="1.5" fill="#0b9079"/>
<rect x="201.00" y="539.3" width="2.0" height="1.0" fill="#0b9079"/>
<rect x="204.11" y="537.7" width="0.8" height="1.6" fill="#0b9079"/>
<rect x="203.51" y="538.7" width="2.0" height="1.0" fill="#0b9079"/>
<rect x="206.62" y="538.7" width="0.8" height="3.6" fill="#e93e4b"/>
<rect x="206.02" y="538.7" width="2.0" height="2.6" fill="#e93e4b"/>
<rect x="209.13" y="541.1" width="0.8" height="2.2" fill="#e93e4b"/>
<rect x="208.53" y="541.4" width="2.0" height="1.3" fill="#e93e4b"/>
<rect x="211.64" y="541.6" width="0.8" height="2.6" fill="#e93e4b"/>
<rect x="211.04" y="542.6" width="2.0" height="1.3" fill="#e93e4b"/>
<rect x="214.14" y="543.4" width="0.8" height="2.3" fill="#e93e4b"/>
<rect x="213.54" y="544.0" width="2.0" height="1.4" fill="#e93e4b"/>
<rect x="216.65" y="545.0" width="0.8" height="2.6" fill="#e93e4b"/>
<rect x="216.05" y="545.3" width="2.0" height="1.3" fill="#e93e4b"/>
<rect x="219.16" y="546.0" width="0.8" height="1.0" fill="#0b9079"/>
<rect x="218.56" y="546.0" width="2.0" height="1.0" fill="#0b9079"/>
<rect x="221.67" y="545.7" width="0.8" height="2.9" fill="#e93e4b"/>
<rect x="221.07" y="546.0" width="2.0" height="2.0" fill="#e93e4b"/>
<rect x="224.18" y="547.7" width="0.8" height="1.7" fill="#e93e4b"/>
<rect x="223.58" y="548.0" width="2.0" height="1.0" fill="#e93e4b"/>
<rect x="226.69" y="547.9" width="0.8" height="1.9" fill="#0b9079"/>
<rect x="226.09" y="548.2" width="2.0" height="1.0" fill="#0b9079"/>
<rect x="229.20" y="547.2" width="0.8" height="2.6" fill="#e93e4b"/>
<rect x="228.60" y="548.2" width="2.0" height="1.0" fill="#e93e4b"/>
<rect x="231.71" y="547.9" width="0.8" height="1.3" fill="#0b9079"/>
<rect x="231.11" y="548.2" width="2.0" height="1.0" fill="#0b9079"/>
<rect x="234.22" y="547.2" width="0.8" height="2.2" fill="#e93e4b"/>
<rect x="233.62" y="548.2" width="2.0" height="1.0" fill="#e93e4b"/>
<rect x="236.72" y="547.4" width="0.8" height="2.0" fill="#0b9079"/>
<rect x="236.12" y="548.0" width="2.0" height="1.0" fill="#0b9079"/>
<rect x="239.23" y="546.8" width="0.8" height="2.2" fill="#0b9079"/>
<rect x="238.63" y="547.4" width="2.0" height="1.0" fill="#0b9079"/>
<rect x="241.74" y="547.4" width="0.8" height="1.7" fill="#e93e4b"/>
<rect x="241.14" y="547.4" width="2.0" height="1.0" fill="#e93e4b"/>
<rect x="244.25" y="548.1" width="0.8" height="1.0" fill="#e93e4b"/>
<rect x="243.65" y="548.1" width="2.0" height="1.0" fill="#e93e4b"/>
<rect x="246.76" y="548.7" width="0.8" height="1.0" fill="#e93e4b"/>
<rect x="246.16" y="548.7" width="2.0" height="1.0" fill="#e93e4b"/>
<rect x="249.27" y="548.4" width="0.8" height="1.5" fill="#0b9079"/>
<rect x="248.67" y="548.7" width="2.0" height="1.0" fill="#0b9079"/>
<rect x="251.78" y="547.7" width="0.8" height="2.4" fill="#e93e4b"/>
<rect x="251.18" y="548.7" width="2.0" height="1.0" fill="#e93e4b"/>
<rect x="254.29" y="548.5" width="0.8" height="2.2" fill="#e93e4b"/>
<rect x="253.69" y="549.5" width="2.0" height="1.0" fill="#e93e4b"/>
<rect x="256.80" y="548.8" width="0.8" height="1.6" fill="#0b9079"/>
<rect x="256.20" y="548.8" width="2.0" height="1.3" fill="#0b9079"/>
<rect x="259.31" y="548.1" width="0.8" height="1.3" fill="#0b9079"/>
<rect x="258.71" y="548.1" width="2.0" height="1.0" fill="#0b9079"/>
<rect x="261.82" y="547.4" width="0.8" height="1.3" fill="#0b9079"/>
<rect x="261.22" y="547.4" width="2.0" height="1.0" fill="#0b9079"/>
<rect x="264.32" y="546.1" width="0.8" height="1.3" fill="#0b9079"/>
<rect x="263.72" y="546.4" width="2.0" height="1.0" fill="#0b9079"/>
<rect x="266.83" y="545.8" width="0.8" height="1.2" fill="#0b9079"/>
<rect x="266.23" y="545.8" width="2.0" height="1.0" fill="#0b9079"/>
<rect x="269.34" y="544.8" width="0.8" height="2.5" fill="#e93e4b"/>
<rect x="268.74" y="545.8" width="2.0" height="1.0" fill="#e93e4b"/>
<rect x="271.85" y="545.8" width="0.8" height="1.0" fill="#0b9079"/>
<rect x="271.25" y="546.1" width="2.0" height="1.0" fill="#0b9079"/>
<rect x="274.36" y="545.2" width="0.8" height="1.2" fill="#0b9079"/>
<rect x="273.76" y="545.5" width="2.0" height="1.0" fill="#0b9079"/>
<rect x="276.87" y="544.9" width="0.8" height="1.6" fill="#e93e4b"/>
<rect x="276.27" y="545.5" width="2.0" height="1.0" fill="#e93e4b"/>
<rect x="279.38" y="545.9" width="0.8" height="1.5" fill="#e93e4b"/>
<rect x="278.78" y="546.2" width="2.0" height="1.0" fill="#e93e4b"/>
<rect x="281.89" y="545.7" width="0.8" height="1.7" fill="#0b9079"/>
<rect x="281.29" y="545.7" width="2.0" height="1.1" fill="#0b9079"/>
<rect x="284.40" y="544.8" width="0.8" height="1.9" fill="#0b9079"/>
<rect x="283.80" y="545.1" width="2.0" height="1.0" fill="#0b9079"/>
<rect x="286.91" y="543.5" width="0.8" height="2.6" fill="#0b9079"/>
<rect x="286.31" y="544.5" width="2.0" height="1.0" fill="#0b9079"/>
<rect x="289.41" y="543.0" width="0.8" height="2.1" fill="#0b9079"/>
<rect x="288.81" y="544.0" width="2.0" height="1.0" fill="#0b9079"/>
<rect x="291.92" y="542.9" width="0.8" height="1.7" fill="#0b9079"/>
<rect x="291.32" y="543.2" width="2.0" height="1.0" fill="#0b9079"/>
<rect x="294.43" y="542.0" width="0.8" height="2.2" fill="#0b9079"/>
<rect x="293.83" y="542.3" width="2.0" height="1.0" fill="#0b9079"/>
<rect x="296.94" y="542.3" width="0.8" height="1.1" fill="#e93e4b"/>
<rect x="296.34" y="542.3" width="2.0" height="1.0" fill="#e93e4b"/>
<rect x="299.45" y="542.5" width="0.8" height="2.6" fill="#e93e4b"/>
<rect x="298.85" y="543.1" width="2.0" height="1.0" fill="#e93e4b"/>
<rect x="301.96" y="544.1" width="0.8" height="1.7" fill="#e93e4b"/>
<rect x="301.36" y="544.1" width="2.0" height="1.0" fill="#e93e4b"/>
<rect x="304.47" y="544.1" width="0.8" height="1.9" fill="#e93e4b"/>
<rect x="303.87" y="544.7" width="2.0" height="1.0" fill="#e93e4b"/>
<rect x="306.98" y="544.8" width="0.8" height="1.2" fill="#0b9079"/>
<rect x="306.38" y="545.1" width="2.0" height="1.0" fill="#0b9079"/>
<rect x="309.49" y="545.1" width="0.8" height="1.4" fill="#e93e4b"/>
<rect x="308.89" y="545.1" width="2.0" height="1.0" fill="#e93e4b"/>
<rect x="312.00" y="544.8" width="0.8" height="1.5" fill="#0b9079"/>
<rect x="311.40" y="545.4" width="2.0" height="1.0" fill="#0b9079"/>
<rect x="314.50" y="544.8" width="0.8" height="2.4" fill="#e93e4b"/>
<rect x="313.90" y="545.4" width="2.0" height="1.5" fill="#e93e4b"/>
<rect x="317.01" y="546.9" width="0.8" height="1.5" fill="#e93e4b"/>
<rect x="316.41" y="546.9" width="2.0" height="1.0" fill="#e93e4b"/>
<rect x="319.52" y="546.9" width="0.8" height="1.2" fill="#0b9079"/>
<rect x="318.92" y="547.2" width="2.0" height="1.0" fill="#0b9079"/>
<rect x="322.03" y="547.2" width="0.8" height="1.4" fill="#e93e4b"/>
<rect x="321.43" y="547.2" width="2.0" height="1.4" fill="#e93e4b"/>
<rect x="324.54" y="547.0" width="0.8" height="1.6" fill="#0b9079"/>
<rect x="323.94" y="548.0" width="2.0" height="1.0" fill="#0b9079"/>
<rect x="327.05" y="547.4" width="0.8" height="1.8" fill="#e93e4b"/>
<rect x="326.45" y="548.0" width="2.0" height="1.0" fill="#e93e4b"/>
<rect x="329.56" y="547.6" width="0.8" height="1.9" fill="#0b9079"/>
<rect x="328.96" y="547.9" width="2.0" height="1.0" fill="#0b9079"/>
<rect x="332.07" y="546.9" width="0.8" height="1.8" fill="#e93e4b"/>
<rect x="331.47" y="547.9" width="2.0" height="1.0" fill="#e93e4b"/>
<rect x="334.58" y="547.7" width="0.8" height="1.0" fill="#0b9079"/>
<rect x="333.98" y="548.0" width="2.0" height="1.0" fill="#0b9079"/>
<rect x="337.09" y="547.0" width="0.8" height="1.9" fill="#e93e4b"/>
<rect x="336.49" y="548.0" width="2.0" height="1.0" fill="#e93e4b"/>
<rect x="339.59" y="548.6" width="0.8" height="1.0" fill="#e93e4b"/>
<rect x="338.99" y="548.6" width="2.0" height="1.0" fill="#e93e4b"/>
<rect x="342.10" y="547.7" width="0.8" height="1.8" fill="#0b9079"/>
<rect x="341.50" y="547.7" width="2.0" height="1.5" fill="#0b9079"/>
<rect x="344.61" y="547.7" width="0.8" height="1.7" fill="#e93e4b"/>
<rect x="344.01" y="547.7" width="2.0" height="1.0" fill="#e93e4b"/>
<rect x="347.12" y="548.3" width="0.8" height="1.0" fill="#e93e4b"/>
<rect x="346.52" y="548.3" width="2.0" height="1.0" fill="#e93e4b"/>
<rect x="349.63" y="548.1" width="0.8" height="2.2" fill="#e93e4b"/>
<rect x="349.03" y="549.1" width="2.0" height="1.0" fill="#e93e4b"/>
<rect x="352.14" y="549.7" width="0.8" height="1.0" fill="#e93e4b"/>
<rect x="351.54" y="549.7" width="2.0" height="1.0" fill="#e93e4b"/>
<rect x="354.65" y="549.7" width="0.8" height="1.2" fill="#0b9079"/>
<rect x="354.05" y="549.7" width="2.0" height="1.0" fill="#0b9079"/>
<rect x="357.16" y="549.4" width="0.8" height="1.9" fill="#e93e4b"/>
<rect x="356.56" y="549.7" width="2.0" height="1.0" fill="#e93e4b"/>
<rect x="359.67" y="548.7" width="0.8" height="1.7" fill="#0b9079"/>
<rect x="359.07" y="549.7" width="2.0" height="1.0" fill="#0b9079"/>
<rect x="362.18" y="549.7" width="0.8" height="1.0" fill="#e93e4b"/>
<rect x="361.58" y="549.7" width="2.0" height="1.0" fill="#e93e4b"/>
<rect x="364.68" y="548.7" width="0.8" height="2.2" fill="#0b9079"/>
<rect x="364.08" y="549.0" width="2.0" height="1.3" fill="#0b9079"/>
<rect x="367.19" y="548.4" width="0.8" height="1.5" fill="#e93e4b"/>
<rect x="366.59" y="549.0" width="2.0" height="1.0" fill="#e93e4b"/>
<rect x="369.70" y="548.2" width="0.8" height="2.4" fill="#0b9079"/>
<rect x="369.10" y="548.2" width="2.0" height="1.4" fill="#0b9079"/>
<rect x="372.21" y="547.9" width="0.8" height="1.9" fill="#e93e4b"/>
<rect x="371.61" y="548.2" width="2.0" height="1.0" fill="#e93e4b"/>
<rect x="374.72" y="546.6" width="0.8" height="3.2" fill="#0b9079"/>
<rect x="374.12" y="547.2" width="2.0" height="1.6" fill="#0b9079"/>
<rect x="377.23" y="546.0" width="0.8" height="1.5" fill="#0b9079"/>
<rect x="376.63" y="546.0" width="2.0" height="1.2" fill="#0b9079"/>
<rect x="379.74" y="542.7" width="0.8" height="4.3" fill="#0b9079"/>
<rect x="379.14" y="542.7" width="2.0" height="3.3" fill="#0b9079"/>
<rect x="382.25" y="538.8" width="0.8" height="4.0" fill="#0b9079"/>
<rect x="381.65" y="539.8" width="2.0" height="3.0" fill="#0b9079"/>
<rect x="384.76" y="538.8" width="0.8" height="3.3" fill="#e93e4b"/>
<rect x="384.16" y="539.8" width="2.0" height="1.7" fill="#e93e4b"/>
<rect x="387.27" y="541.2" width="0.8" height="1.0" fill="#e93e4b"/>
<rect x="386.67" y="541.5" width="2.0" height="1.0" fill="#e93e4b"/>
<rect x="389.77" y="540.9" width="0.8" height="1.8" fill="#0b9079"/>
<rect x="389.17" y="541.5" width="2.0" height="1.0" fill="#0b9079"/>
<rect x="392.28" y="540.9" width="0.8" height="1.2" fill="#e93e4b"/>
<rect x="391.68" y="541.5" width="2.0" height="1.0" fill="#e93e4b"/>
<rect x="394.79" y="540.5" width="0.8" height="2.6" fill="#0b9079"/>
<rect x="394.19" y="541.5" width="2.0" height="1.0" fill="#0b9079"/>
<rect x="397.30" y="540.7" width="0.8" height="1.7" fill="#0b9079"/>
<rect x="396.70" y="540.7" width="2.0" height="1.0" fill="#0b9079"/>
<rect x="399.81" y="539.8" width="0.8" height="1.9" fill="#0b9079"/>
<rect x="399.21" y="540.1" width="2.0" height="1.0" fill="#0b9079"/>
<rect x="402.32" y="539.5" width="0.8" height="1.4" fill="#e93e4b"/>
<rect x="401.72" y="540.1" width="2.0" height="1.0" fill="#e93e4b"/>
<rect x="404.83" y="539.7" width="0.8" height="2.2" fill="#0b9079"/>
<rect x="404.23" y="540.3" width="2.0" height="1.0" fill="#0b9079"/>
<rect x="407.34" y="540.3" width="0.8" height="1.2" fill="#e93e4b"/>
<rect x="406.74" y="540.3" width="2.0" height="1.0" fill="#e93e4b"/>
<rect x="409.85" y="539.3" width="0.8" height="1.6" fill="#0b9079"/>
<rect x="409.25" y="540.3" width="2.0" height="1.0" fill="#0b9079"/>
<rect x="412.36" y="539.3" width="0.8" height="2.9" fill="#e93e4b"/>
<rect x="411.75" y="540.3" width="2.0" height="1.3" fill="#e93e4b"/>
<rect x="414.86" y="541.0" width="0.8" height="1.3" fill="#e93e4b"/>
<rect x="414.26" y="541.6" width="2.0" height="1.0" fill="#e93e4b"/>
<rect x="417.37" y="541.1" width="0.8" height="1.5" fill="#0b9079"/>
<rect x="416.77" y="541.7" width="2.0" height="1.0" fill="#0b9079"/>
<rect x="419.88" y="541.1" width="0.8" height="2.9" fill="#e93e4b"/>
<rect x="419.28" y="541.7" width="2.0" height="1.3" fill="#e93e4b"/>
<rect x="422.39" y="541.8" width="0.8" height="2.2" fill="#0b9079"/>
<rect x="421.79" y="542.4" width="2.0" height="1.0" fill="#0b9079"/>
<rect x="424.90" y="541.4" width="0.8" height="2.3" fill="#e93e4b"/>
<rect x="424.30" y="542.4" width="2.0" height="1.0" fill="#e93e4b"/>
<rect x="427.41" y="541.7" width="0.8" height="2.6" fill="#0b9079"/>
<rect x="426.81" y="542.7" width="2.0" height="1.0" fill="#0b9079"/>
<rect x="429.92" y="542.4" width="0.8" height="1.8" fill="#e93e4b"/>
<rect x="429.32" y="542.7" width="2.0" height="1.0" fill="#e93e4b"/>
<rect x="432.43" y="543.3" width="0.8" height="1.2" fill="#e93e4b"/>
<rect x="431.83" y="543.6" width="2.0" height="1.0" fill="#e93e4b"/>
<rect x="434.94" y="543.0" width="0.8" height="1.8" fill="#0b9079"/>
<rect x="434.34" y="543.6" width="2.0" height="1.0" fill="#0b9079"/>
<rect x="437.45" y="543.0" width="0.8" height="2.2" fill="#e93e4b"/>
<rect x="436.85" y="543.6" width="2.0" height="1.0" fill="#e93e4b"/>
<rect x="439.95" y="542.6" width="0.8" height="1.6" fill="#0b9079"/>
<rect x="439.35" y="543.6" width="2.0" height="1.0" fill="#0b9079"/>
<rect x="442.46" y="543.3" width="0.8" height="1.0" fill="#e93e4b"/>
<rect x="441.86" y="543.6" width="2.0" height="1.0" fill="#e93e4b"/>
<rect x="444.97" y="543.3" width="0.8" height="1.9" fill="#e93e4b"/>
<rect x="444.37" y="544.3" width="2.0" height="1.0" fill="#e93e4b"/>
<rect x="447.48" y="544.3" width="0.8" height="2.1" fill="#e93e4b"/>
<rect x="446.88" y="544.9" width="2.0" height="1.0" fill="#e93e4b"/>
<rect x="449.99" y="545.2" width="0.8" height="1.0" fill="#e93e4b"/>
<rect x="449.39" y="545.5" width="2.0" height="1.0" fill="#e93e4b"/>
<rect x="452.50" y="545.5" width="0.8" height="1.5" fill="#e93e4b"/>
<rect x="451.90" y="546.1" width="2.0" height="1.0" fill="#e93e4b"/>
<rect x="455.01" y="545.4" width="0.8" height="1.2" fill="#0b9079"/>
<rect x="454.41" y="545.7" width="2.0" height="1.0" fill="#0b9079"/>
<rect x="457.52" y="544.1" width="0.8" height="1.9" fill="#0b9079"/>
<rect x="456.92" y="545.1" width="2.0" height="1.0" fill="#0b9079"/>
<rect x="460.03" y="544.5" width="0.8" height="1.6" fill="#0b9079"/>
<rect x="459.43" y="544.5" width="2.0" height="1.0" fill="#0b9079"/>
<rect x="462.54" y="544.2" width="0.8" height="1.2" fill="#e93e4b"/>
<rect x="461.94" y="544.5" width="2.0" height="1.0" fill="#e93e4b"/>
<rect x="465.04" y="544.1" width="0.8" height="2.6" fill="#e93e4b"/>
<rect x="464.44" y="545.1" width="2.0" height="1.0" fill="#e93e4b"/>
<rect x="467.55" y="544.1" width="0.8" height="2.2" fill="#0b9079"/>
<rect x="466.95" y="545.1" width="2.0" height="1.0" fill="#0b9079"/>
<rect x="470.06" y="545.1" width="0.8" height="1.0" fill="#e93e4b"/>
<rect x="469.46" y="545.1" width="2.0" height="1.0" fill="#e93e4b"/>
<rect x="472.57" y="543.8" width="0.8" height="2.9" fill="#0b9079"/>
<rect x="471.97" y="544.8" width="2.0" height="1.0" fill="#0b9079"/>
<rect x="475.08" y="543.2" width="0.8" height="2.6" fill="#0b9079"/>
<rect x="474.48" y="544.2" width="2.0" height="1.0" fill="#0b9079"/>
<rect x="477.59" y="544.2" width="0.8" height="1.2" fill="#e93e4b"/>
<rect x="476.99" y="544.2" width="2.0" height="1.0" fill="#e93e4b"/>
<rect x="480.10" y="543.8" width="0.8" height="2.3" fill="#0b9079"/>
<rect x="479.50" y="543.8" width="2.0" height="1.3" fill="#0b9079"/>
<rect x="482.61" y="542.5" width="0.8" height="1.3" fill="#0b9079"/>
<rect x="482.01" y="542.5" width="2.0" height="1.3" fill="#0b9079"/>
<rect x="485.12" y="541.9" width="0.8" height="1.2" fill="#0b9079"/>
<rect x="484.52" y="541.9" width="2.0" height="1.0" fill="#0b9079"/>
<rect x="487.63" y="541.3" width="0.8" height="2.5" fill="#e93e4b"/>
<rect x="487.03" y="541.9" width="2.0" height="1.0" fill="#e93e4b"/>
<rect x="490.13" y="542.2" width="0.8" height="1.2" fill="#0b9079"/>
<rect x="489.53" y="542.2" width="2.0" height="1.0" fill="#0b9079"/>
<rect x="492.64" y="541.2" width="0.8" height="2.2" fill="#e93e4b"/>
<rect x="492.04" y="542.2" width="2.0" height="1.0" fill="#e93e4b"/>
<rect x="495.15" y="542.2" width="0.8" height="1.0" fill="#0b9079"/>
<rect x="494.55" y="542.2" width="2.0" height="1.0" fill="#0b9079"/>
<rect x="497.66" y="541.6" width="0.8" height="1.8" fill="#e93e4b"/>
<rect x="497.06" y="542.2" width="2.0" height="1.0" fill="#e93e4b"/>
<rect x="500.17" y="541.8" width="0.8" height="1.9" fill="#e93e4b"/>
<rect x="499.57" y="542.8" width="2.0" height="1.0" fill="#e93e4b"/>
<rect x="502.68" y="541.8" width="0.8" height="2.2" fill="#0b9079"/>
<rect x="502.08" y="542.8" width="2.0" height="1.0" fill="#0b9079"/>
<rect x="505.19" y="542.5" width="0.8" height="1.8" fill="#e93e4b"/>
<rect x="504.59" y="542.8" width="2.0" height="1.0" fill="#e93e4b"/>
<rect x="507.70" y="543.4" width="0.8" height="1.2" fill="#e93e4b"/>
<rect x="507.10" y="543.4" width="2.0" height="1.0" fill="#e93e4b"/>
<rect x="510.21" y="541.6" width="0.8" height="2.9" fill="#0b9079"/>
<rect x="509.61" y="542.6" width="2.0" height="1.3" fill="#0b9079"/>
<rect x="512.72" y="541.4" width="0.8" height="2.2" fill="#0b9079"/>
<rect x="512.12" y="542.0" width="2.0" height="1.0" fill="#0b9079"/>
<rect x="515.22" y="541.4" width="0.8" height="1.2" fill="#0b9079"/>
<rect x="514.62" y="541.4" width="2.0" height="1.0" fill="#0b9079"/>
<rect x="517.73" y="541.4" width="0.8" height="1.6" fill="#e93e4b"/>
<rect x="517.13" y="541.4" width="2.0" height="1.3" fill="#e93e4b"/>
<rect x="520.24" y="541.9" width="0.8" height="1.2" fill="#0b9079"/>
<rect x="519.64" y="542.2" width="2.0" height="1.0" fill="#0b9079"/>
<rect x="522.75" y="541.6" width="0.8" height="1.9" fill="#e93e4b"/>
<rect x="522.15" y="542.2" width="2.0" height="1.0" fill="#e93e4b"/>
<rect x="525.26" y="542.5" width="0.8" height="1.2" fill="#e93e4b"/>
<rect x="524.66" y="542.8" width="2.0" height="1.0" fill="#e93e4b"/>
<rect x="527.77" y="543.4" width="0.8" height="1.0" fill="#e93e4b"/>
<rect x="527.17" y="543.4" width="2.0" height="1.0" fill="#e93e4b"/>
<rect x="530.28" y="543.3" width="0.8" height="1.1" fill="#0b9079"/>
<rect x="529.68" y="543.3" width="2.0" height="1.0" fill="#0b9079"/>
<rect x="532.79" y="542.2" width="0.8" height="2.0" fill="#0b9079"/>
<rect x="532.19" y="542.5" width="2.0" height="1.0" fill="#0b9079"/>
<rect x="535.30" y="540.9" width="0.8" height="2.6" fill="#0b9079"/>
<rect x="534.70" y="541.9" width="2.0" height="1.0" fill="#0b9079"/>
<rect x="537.81" y="541.3" width="0.8" height="1.4" fill="#e93e4b"/>
<rect x="537.21" y="541.9" width="2.0" height="1.0" fill="#e93e4b"/>
<rect x="540.31" y="542.1" width="0.8" height="1.5" fill="#e93e4b"/>
<rect x="539.71" y="542.7" width="2.0" height="1.0" fill="#e93e4b"/>
<rect x="542.82" y="541.0" width="0.8" height="2.3" fill="#0b9079"/>
<rect x="542.22" y="542.0" width="2.0" height="1.3" fill="#0b9079"/>
<rect x="545.33" y="541.4" width="0.8" height="1.8" fill="#e93e4b"/>
<rect x="544.73" y="542.0" width="2.0" height="1.0" fill="#e93e4b"/>
<rect x="547.84" y="542.0" width="0.8" height="1.2" fill="#0b9079"/>
<rect x="547.24" y="542.0" width="2.0" height="1.0" fill="#0b9079"/>
<rect x="550.35" y="541.4" width="0.8" height="1.0" fill="#0b9079"/>
<rect x="549.75" y="541.4" width="2.0" height="1.0" fill="#0b9079"/>
<rect x="552.86" y="540.8" width="0.8" height="2.2" fill="#e93e4b"/>
<rect x="552.26" y="541.4" width="2.0" height="1.0" fill="#e93e4b"/>
<rect x="555.37" y="541.7" width="0.8" height="1.5" fill="#e93e4b"/>
<rect x="554.77" y="542.0" width="2.0" height="1.0" fill="#e93e4b"/>
<rect x="557.88" y="541.4" width="0.8" height="1.8" fill="#0b9079"/>
<rect x="557.28" y="542.0" width="2.0" height="1.0" fill="#0b9079"/>
<rect x="560.39" y="541.0" width="0.8" height="1.5" fill="#e93e4b"/>
<rect x="559.79" y="542.0" width="2.0" height="1.0" fill="#e93e4b"/>
<rect x="562.90" y="540.9" width="0.8" height="1.6" fill="#0b9079"/>
<rect x="562.30" y="541.9" width="2.0" height="1.0" fill="#0b9079"/>
<rect x="565.40" y="540.9" width="0.8" height="1.5" fill="#e93e4b"/>
<rect x="564.80" y="541.9" width="2.0" height="1.0" fill="#e93e4b"/>
<rect x="567.91" y="541.6" width="0.8" height="1.0" fill="#0b9079"/>
<rect x="567.31" y="541.9" width="2.0" height="1.0" fill="#0b9079"/>
<rect x="570.42" y="541.3" width="0.8" height="2.4" fill="#e93e4b"/>
<rect x="569.82" y="541.9" width="2.0" height="1.2" fill="#e93e4b"/>
<rect x="572.93" y="543.1" width="0.8" height="1.2" fill="#e93e4b"/>
<rect x="572.33" y="543.1" width="2.0" height="1.0" fill="#e93e4b"/>
<rect x="575.44" y="542.5" width="0.8" height="1.8" fill="#0b9079"/>
<rect x="574.84" y="543.1" width="2.0" height="1.0" fill="#0b9079"/>
<rect x="577.95" y="543.1" width="0.8" height="1.0" fill="#e93e4b"/>
<rect x="577.35" y="543.1" width="2.0" height="1.0" fill="#e93e4b"/>
<rect x="580.46" y="542.1" width="0.8" height="2.6" fill="#0b9079"/>
<rect x="579.86" y="543.1" width="2.0" height="1.0" fill="#0b9079"/>
<rect x="582.97" y="542.1" width="0.8" height="1.9" fill="#e93e4b"/>
<rect x="582.37" y="543.1" width="2.0" height="1.0" fill="#e93e4b"/>
<rect x="585.48" y="542.5" width="0.8" height="1.5" fill="#0b9079"/>
<rect x="584.88" y="543.1" width="2.0" height="1.0" fill="#0b9079"/>
<rect x="587.99" y="542.5" width="0.8" height="1.7" fill="#e93e4b"/>
<rect x="587.38" y="543.1" width="2.0" height="1.0" fill="#e93e4b"/>
<rect x="590.49" y="543.6" width="0.8" height="1.0" fill="#e93e4b"/>
<rect x="589.89" y="543.6" width="2.0" height="1.0" fill="#e93e4b"/>
<rect x="593.00" y="542.6" width="0.8" height="1.6" fill="#0b9079"/>
<rect x="592.40" y="543.6" width="2.0" height="1.0" fill="#0b9079"/>
<rect x="595.51" y="542.6" width="0.8" height="2.5" fill="#e93e4b"/>
<rect x="594.91" y="543.6" width="2.0" height="1.0" fill="#e93e4b"/>
<rect x="598.02" y="543.9" width="0.8" height="1.0" fill="#0b9079"/>
<rect x="597.42" y="543.9" width="2.0" height="1.0" fill="#0b9079"/>
<rect x="600.53" y="543.9" width="0.8" height="1.1" fill="#e93e4b"/>
<rect x="599.93" y="543.9" width="2.0" height="1.0" fill="#e93e4b"/>
<rect x="603.04" y="543.1" width="0.8" height="1.9" fill="#0b9079"/>
<rect x="602.44" y="544.1" width="2.0" height="1.0" fill="#0b9079"/>
<rect x="605.55" y="543.2" width="0.8" height="1.0" fill="#0b9079"/>
<rect x="604.95" y="543.5" width="2.0" height="1.0" fill="#0b9079"/>
<rect x="608.06" y="542.9" width="0.8" height="1.8" fill="#e93e4b"/>
<rect x="607.46" y="543.5" width="2.0" height="1.0" fill="#e93e4b"/>
<rect x="610.57" y="542.7" width="0.8" height="2.1" fill="#0b9079"/>
<rect x="609.97" y="543.3" width="2.0" height="1.0" fill="#0b9079"/>
<rect x="613.08" y="542.1" width="0.8" height="1.4" fill="#0b9079"/>
<rect x="612.48" y="542.7" width="2.0" height="1.0" fill="#0b9079"/>
<rect x="615.58" y="541.8" width="0.8" height="1.2" fill="#0b9079"/>
<rect x="614.98" y="542.1" width="2.0" height="1.0" fill="#0b9079"/>
<rect x="618.09" y="541.8" width="0.8" height="2.5" fill="#e93e4b"/>
<rect x="617.49" y="542.1" width="2.0" height="1.6" fill="#e93e4b"/>
<rect x="620.60" y="542.8" width="0.8" height="1.2" fill="#0b9079"/>
<rect x="620.00" y="543.1" width="2.0" height="1.0" fill="#0b9079"/>
<rect x="623.11" y="543.1" width="0.8" height="3.1" fill="#e93e4b"/>
<rect x="622.51" y="543.1" width="2.0" height="2.1" fill="#e93e4b"/>
<rect x="625.62" y="543.6" width="0.8" height="1.9" fill="#0b9079"/>
<rect x="625.02" y="544.6" width="2.0" height="1.0" fill="#0b9079"/>
<rect x="628.13" y="544.0" width="0.8" height="3.9" fill="#e93e4b"/>
<rect x="627.53" y="544.6" width="2.0" height="3.3" fill="#e93e4b"/>
<rect x="630.64" y="547.6" width="0.8" height="1.9" fill="#e93e4b"/>
<rect x="630.04" y="547.9" width="2.0" height="1.6" fill="#e93e4b"/>
<rect x="633.15" y="548.7" width="0.8" height="1.0" fill="#0b9079"/>
<rect x="632.55" y="549.0" width="2.0" height="1.0" fill="#0b9079"/>
<rect x="635.66" y="548.0" width="0.8" height="2.2" fill="#e93e4b"/>
<rect x="635.06" y="549.0" width="2.0" height="1.0" fill="#e93e4b"/>
<rect x="638.17" y="549.6" width="0.8" height="1.0" fill="#e93e4b"/>
<rect x="637.57" y="549.6" width="2.0" height="1.0" fill="#e93e4b"/>
<rect x="640.67" y="549.6" width="0.8" height="1.5" fill="#e93e4b"/>
<rect x="640.07" y="550.2" width="2.0" height="1.0" fill="#e93e4b"/>
<rect x="643.18" y="549.4" width="0.8" height="1.7" fill="#0b9079"/>
<rect x="642.58" y="550.0" width="2.0" height="1.0" fill="#0b9079"/>
<rect x="645.69" y="550.0" width="0.8" height="1.0" fill="#e93e4b"/>
<rect x="645.09" y="550.0" width="2.0" height="1.0" fill="#e93e4b"/>
<rect x="648.20" y="550.0" width="0.8" height="2.4" fill="#e93e4b"/>
<rect x="647.60" y="550.6" width="2.0" height="1.0" fill="#e93e4b"/>
<rect x="650.71" y="550.2" width="0.8" height="1.2" fill="#0b9079"/>
<rect x="650.11" y="550.8" width="2.0" height="1.0" fill="#0b9079"/>
<rect x="653.22" y="549.8" width="0.8" height="2.5" fill="#e93e4b"/>
<rect x="652.62" y="550.8" width="2.0" height="1.0" fill="#e93e4b"/>
<rect x="655.73" y="549.7" width="0.8" height="1.9" fill="#0b9079"/>
<rect x="655.13" y="550.7" width="2.0" height="1.0" fill="#0b9079"/>
<rect x="658.24" y="549.8" width="0.8" height="1.9" fill="#0b9079"/>
<rect x="657.64" y="550.1" width="2.0" height="1.0" fill="#0b9079"/>
<rect x="660.75" y="549.1" width="0.8" height="2.8" fill="#e93e4b"/>
<rect x="660.15" y="550.1" width="2.0" height="1.2" fill="#e93e4b"/>
<rect x="663.25" y="550.3" width="0.8" height="1.5" fill="#e93e4b"/>
<rect x="662.65" y="551.3" width="2.0" height="1.0" fill="#e93e4b"/>
<rect x="665.76" y="551.2" width="0.8" height="2.2" fill="#e93e4b"/>
<rect x="665.16" y="551.8" width="2.0" height="1.0" fill="#e93e4b"/>
<rect x="668.27" y="551.2" width="0.8" height="1.5" fill="#0b9079"/>
<rect x="667.67" y="551.8" width="2.0" height="1.0" fill="#0b9079"/>
<rect x="670.78" y="551.2" width="0.8" height="1.6" fill="#0b9079"/>
<rect x="670.18" y="551.2" width="2.0" height="1.0" fill="#0b9079"/>
<rect x="673.29" y="550.6" width="0.8" height="1.6" fill="#0b9079"/>
<rect x="672.69" y="550.6" width="2.0" height="1.0" fill="#0b9079"/>
<rect x="675.80" y="549.7" width="0.8" height="1.2" fill="#0b9079"/>
<rect x="675.20" y="550.0" width="2.0" height="1.0" fill="#0b9079"/>
<rect x="678.31" y="549.7" width="0.8" height="2.8" fill="#e93e4b"/>
<rect x="677.71" y="550.0" width="2.0" height="1.5" fill="#e93e4b"/>
<rect x="680.82" y="550.9" width="0.8" height="1.6" fill="#e93e4b"/>
<rect x="680.22" y="551.5" width="2.0" height="1.0" fill="#e93e4b"/>
<rect x="683.33" y="551.7" width="0.8" height="1.5" fill="#e93e4b"/>
<rect x="682.73" y="552.3" width="2.0" height="1.0" fill="#e93e4b"/>
<rect x="685.84" y="552.9" width="0.8" height="1.6" fill="#e93e4b"/>
<rect x="685.24" y="552.9" width="2.0" height="1.0" fill="#e93e4b"/>
<rect x="688.35" y="552.6" width="0.8" height="1.5" fill="#0b9079"/>
<rect x="687.75" y="552.9" width="2.0" height="1.0" fill="#0b9079"/>
<rect x="690.85" y="551.9" width="0.8" height="2.2" fill="#e93e4b"/>
<rect x="690.25" y="552.9" width="2.0" height="1.0" fill="#e93e4b"/>
<rect x="693.36" y="551.9" width="0.8" height="1.6" fill="#0b9079"/>
<rect x="692.76" y="552.9" width="2.0" height="1.0" fill="#0b9079"/>
<rect x="695.87" y="552.6" width="0.8" height="1.4" fill="#e93e4b"/>
<rect x="695.27" y="552.9" width="2.0" height="1.0" fill="#e93e4b"/>
<rect x="698.38" y="553.4" width="0.8" height="1.9" fill="#e93e4b"/>
<rect x="697.78" y="553.7" width="2.0" height="1.0" fill="#e93e4b"/>
<rect x="700.89" y="553.4" width="0.8" height="1.0" fill="#0b9079"/>
<rect x="700.29" y="553.7" width="2.0" height="1.0" fill="#0b9079"/>
<rect x="703.40" y="553.4" width="0.8" height="2.5" fill="#e93e4b"/>
<rect x="702.80" y="553.7" width="2.0" height="1.2" fill="#e93e4b"/>
<rect x="705.91" y="554.6" width="0.8" height="1.5" fill="#e93e4b"/>
<rect x="705.31" y="554.9" width="2.0" height="1.0" fill="#e93e4b"/>
<rect x="708.42" y="555.6" width="0.8" height="1.0" fill="#e93e4b"/>
<rect x="707.82" y="555.9" width="2.0" height="1.0" fill="#e93e4b"/>
<rect x="710.93" y="555.4" width="0.8" height="1.7" fill="#0b9079"/>
<rect x="710.33" y="555.4" width="2.0" height="1.1" fill="#0b9079"/>
<rect x="713.44" y="553.4" width="0.8" height="2.6" fill="#0b9079"/>
<rect x="712.84" y="554.4" width="2.0" height="1.0" fill="#0b9079"/>
<rect x="715.94" y="553.5" width="0.8" height="1.9" fill="#0b9079"/>
<rect x="715.34" y="553.8" width="2.0" height="1.0" fill="#0b9079"/>
<rect x="718.45" y="552.2" width="0.8" height="1.9" fill="#0b9079"/>
<rect x="717.85" y="553.2" width="2.0" height="1.0" fill="#0b9079"/>
<rect x="720.96" y="552.2" width="0.8" height="2.6" fill="#e93e4b"/>
<rect x="720.36" y="553.2" width="2.0" height="1.0" fill="#e93e4b"/>
<rect x="723.47" y="551.6" width="0.8" height="2.6" fill="#0b9079"/>
<rect x="722.87" y="552.6" width="2.0" height="1.3" fill="#0b9079"/>
<rect x="725.98" y="552.0" width="0.8" height="1.0" fill="#0b9079"/>
<rect x="725.38" y="552.0" width="2.0" height="1.0" fill="#0b9079"/>
<rect x="728.49" y="548.5" width="0.8" height="4.5" fill="#0b9079"/>
<rect x="727.89" y="549.0" width="2.0" height="3.5" fill="#0b9079"/>
<rect x="731.00" y="546.5" width="0.8" height="3.5" fill="#0b9079"/>
<rect x="730.40" y="547.0" width="2.0" height="2.4" fill="#0b9079"/>
<rect x="733.51" y="535.0" width="0.8" height="13.0" fill="#0b9079"/>
<rect x="732.91" y="540.0" width="2.0" height="7.5" fill="#0b9079"/>
<rect x="736.02" y="534.5" width="0.8" height="7.0" fill="#0b9079"/>
<rect x="735.42" y="537.5" width="2.0" height="3.5" fill="#0b9079"/>
<rect x="738.53" y="537.5" width="0.8" height="3.0" fill="#e93e4b"/>
<rect x="737.93" y="538.0" width="2.0" height="2.0" fill="#e93e4b"/>
<rect x="741.03" y="537.0" width="0.8" height="3.0" fill="#0b9079"/>
<rect x="740.43" y="537.5" width="2.0" height="1.9" fill="#0b9079"/>
<rect x="743.54" y="532.0" width="0.8" height="6.0" fill="#0b9079"/>
<rect x="742.94" y="535.6" width="2.0" height="1.9" fill="#0b9079"/>
<rect x="746.05" y="535.8" width="0.8" height="4.0" fill="#e93e4b"/>
<rect x="745.45" y="536.2" width="2.0" height="3.2" fill="#e93e4b"/>
<rect x="748.56" y="538.3" width="0.8" height="1.7" fill="#0b9079"/>
<rect x="747.96" y="538.8" width="2.0" height="1.0" fill="#0b9079"/>
<rect x="751.07" y="538.5" width="0.8" height="1.7" fill="#e93e4b"/>
<rect x="750.47" y="538.8" width="2.0" height="1.0" fill="#e93e4b"/>
<rect x="753.58" y="538.8" width="0.8" height="1.2" fill="#0b9079"/>
<rect x="752.98" y="539.2" width="2.0" height="1.0" fill="#0b9079"/>
<rect x="756.09" y="539.0" width="0.8" height="1.5" fill="#e93e4b"/>
<rect x="755.49" y="539.2" width="2.0" height="1.0" fill="#e93e4b"/>
<rect x="758.60" y="540.0" width="0.8" height="2.3" fill="#e93e4b"/>
<rect x="758.00" y="540.2" width="2.0" height="1.7" fill="#e93e4b"/>
<rect x="761.11" y="539.0" width="0.8" height="2.5" fill="#e93e4b"/>
<rect x="760.51" y="539.6" width="2.0" height="1.3" fill="#e93e4b"/>
<rect x="763.62" y="539.7" width="0.8" height="1.2" fill="#0b9079"/>
<rect x="763.02" y="540.3" width="2.0" height="1.0" fill="#0b9079"/>
<rect x="766.12" y="540.3" width="0.8" height="1.5" fill="#e93e4b"/>
<rect x="765.52" y="540.3" width="2.0" height="1.0" fill="#e93e4b"/>
<rect x="768.63" y="540.6" width="0.8" height="1.2" fill="#0b9079"/>
<rect x="768.03" y="540.6" width="2.0" height="1.0" fill="#0b9079"/>
<rect x="771.14" y="539.6" width="0.8" height="2.4" fill="#e93e4b"/>
<rect x="770.54" y="540.6" width="2.0" height="1.0" fill="#e93e4b"/>
<rect x="773.65" y="540.0" width="0.8" height="1.6" fill="#0b9079"/>
<rect x="773.05" y="540.6" width="2.0" height="1.0" fill="#0b9079"/>
<rect x="776.16" y="539.6" width="0.8" height="1.9" fill="#e93e4b"/>
<rect x="775.56" y="540.6" width="2.0" height="1.0" fill="#e93e4b"/>
<rect x="778.67" y="540.3" width="0.8" height="1.5" fill="#0b9079"/>
<rect x="778.07" y="540.3" width="2.0" height="1.0" fill="#0b9079"/>
<rect x="781.18" y="539.7" width="0.8" height="2.2" fill="#e93e4b"/>
<rect x="780.58" y="540.3" width="2.0" height="1.0" fill="#e93e4b"/>
<rect x="783.69" y="540.7" width="0.8" height="1.2" fill="#e93e4b"/>
<rect x="783.09" y="541.3" width="2.0" height="1.0" fill="#e93e4b"/>
<rect x="786.20" y="541.6" width="0.8" height="1.3" fill="#e93e4b"/>
<rect x="785.60" y="541.9" width="2.0" height="1.0" fill="#e93e4b"/>
<rect x="788.71" y="541.6" width="0.8" height="2.2" fill="#e93e4b"/>
<rect x="788.11" y="542.6" width="2.0" height="1.0" fill="#e93e4b"/>
<rect x="791.21" y="542.9" width="0.8" height="1.9" fill="#e93e4b"/>
<rect x="790.61" y="543.2" width="2.0" height="1.0" fill="#e93e4b"/>
<rect x="793.72" y="543.8" width="0.8" height="1.0" fill="#e93e4b"/>
<rect x="793.12" y="543.8" width="2.0" height="1.0" fill="#e93e4b"/>
<rect x="796.23" y="542.0" width="0.8" height="3.0" fill="#0b9079"/>
<rect x="795.63" y="542.6" width="2.0" height="1.8" fill="#0b9079"/>
<rect x="798.74" y="541.7" width="0.8" height="1.9" fill="#0b9079"/>
<rect x="798.14" y="542.0" width="2.0" height="1.0" fill="#0b9079"/>
<rect x="801.25" y="541.5" width="0.8" height="2.0" fill="#0b9079"/>
<rect x="800.65" y="542.2" width="2.0" height="1.0" fill="#0b9079"/>
<rect x="803.76" y="541.5" width="0.8" height="2.0" fill="#e93e4b"/>
<rect x="803.16" y="542.0" width="2.0" height="1.0" fill="#e93e4b"/>
<rect x="806.27" y="539.8" width="0.8" height="3.2" fill="#0b9079"/>
<rect x="805.67" y="540.3" width="2.0" height="2.2" fill="#0b9079"/>
<rect x="808.78" y="538.0" width="0.8" height="3.5" fill="#0b9079"/>
<rect x="808.18" y="538.7" width="2.0" height="2.3" fill="#0b9079"/>
<rect x="811.29" y="536.5" width="0.8" height="3.0" fill="#0b9079"/>
<rect x="810.69" y="537.0" width="2.0" height="1.7" fill="#0b9079"/>
<rect x="813.80" y="535.5" width="0.8" height="2.0" fill="#0b9079"/>
<rect x="813.20" y="536.0" width="2.0" height="1.0" fill="#0b9079"/>
<rect x="816.30" y="533.5" width="0.8" height="3.0" fill="#0b9079"/>
<rect x="815.70" y="534.4" width="2.0" height="1.6" fill="#0b9079"/>
<rect x="818.81" y="533.0" width="0.8" height="4.0" fill="#e93e4b"/>
<rect x="818.21" y="533.9" width="2.0" height="2.6" fill="#e93e4b"/>
<rect x="821.32" y="534.8" width="0.8" height="2.2" fill="#e93e4b"/>
<rect x="820.72" y="535.3" width="2.0" height="1.0" fill="#e93e4b"/>
<rect x="823.83" y="535.5" width="0.8" height="1.7" fill="#e93e4b"/>
<rect x="823.23" y="536.0" width="2.0" height="1.0" fill="#e93e4b"/>
<rect x="826.34" y="533.8" width="0.8" height="2.7" fill="#0b9079"/>
<rect x="825.74" y="534.4" width="2.0" height="1.6" fill="#0b9079"/>
<rect x="828.85" y="532.0" width="0.8" height="3.5" fill="#0b9079"/>
<rect x="828.25" y="532.8" width="2.0" height="2.2" fill="#0b9079"/>
<rect x="831.36" y="528.0" width="0.8" height="6.0" fill="#0b9079"/>
<rect x="830.76" y="528.5" width="2.0" height="4.8" fill="#0b9079"/>
<rect x="833.87" y="525.0" width="0.8" height="4.5" fill="#0b9079"/>
<rect x="833.27" y="525.8" width="2.0" height="3.2" fill="#0b9079"/>
<rect x="836.38" y="523.0" width="0.8" height="4.5" fill="#0b9079"/>
<rect x="835.78" y="523.6" width="2.0" height="3.3" fill="#0b9079"/>
<rect x="838.89" y="520.5" width="0.8" height="4.3" fill="#0b9079"/>
<rect x="838.29" y="521.5" width="2.0" height="2.7" fill="#0b9079"/>
<rect x="841.39" y="512.0" width="0.8" height="10.5" fill="#0b9079"/>
<rect x="840.79" y="513.0" width="2.0" height="9.0" fill="#0b9079"/>
<rect x="843.90" y="515.0" width="0.8" height="6.5" fill="#e93e4b"/>
<rect x="843.30" y="515.5" width="2.0" height="4.0" fill="#e93e4b"/>
<rect x="846.41" y="502.0" width="0.8" height="18.0" fill="#0b9079"/>
<rect x="845.81" y="503.0" width="2.0" height="16.0" fill="#0b9079"/>
<rect x="848.92" y="496.0" width="0.8" height="13.0" fill="#0b9079"/>
<rect x="848.32" y="499.4" width="2.0" height="4.3" fill="#0b9079"/>
<rect x="851.43" y="497.0" width="0.8" height="12.0" fill="#e93e4b"/>
<rect x="850.83" y="500.0" width="2.0" height="5.3" fill="#e93e4b"/>
<rect x="853.94" y="496.0" width="0.8" height="11.0" fill="#0b9079"/>
<rect x="853.34" y="497.8" width="2.0" height="8.6" fill="#0b9079"/>
<rect x="856.45" y="495.0" width="0.8" height="7.0" fill="#e93e4b"/>
<rect x="855.85" y="497.0" width="2.0" height="3.5" fill="#e93e4b"/>
<rect x="858.96" y="487.0" width="0.8" height="14.0" fill="#0b9079"/>
<rect x="858.36" y="489.0" width="2.0" height="11.0" fill="#0b9079"/>
<rect x="861.47" y="484.0" width="0.8" height="16.0" fill="#e93e4b"/>
<rect x="860.87" y="489.0" width="2.0" height="9.5" fill="#e93e4b"/>
<rect x="863.98" y="486.5" width="0.8" height="13.0" fill="#0b9079"/>
<rect x="863.38" y="487.7" width="2.0" height="10.8" fill="#0b9079"/>
<rect x="866.48" y="478.5" width="0.8" height="14.5" fill="#0b9079"/>
<rect x="865.88" y="484.6" width="2.0" height="7.7" fill="#0b9079"/>
<rect x="868.99" y="470.8" width="0.8" height="15.2" fill="#0b9079"/>
<rect x="868.39" y="472.0" width="2.0" height="13.4" fill="#0b9079"/>
<rect x="871.50" y="436.0" width="0.8" height="38.5" fill="#0b9079"/>
<rect x="870.90" y="444.6" width="2.0" height="29.2" fill="#0b9079"/>
<rect x="874.01" y="415.0" width="0.8" height="42.0" fill="#e93e4b"/>
<rect x="873.41" y="443.8" width="2.0" height="5.4" fill="#e93e4b"/>
<rect x="876.52" y="433.0" width="0.8" height="20.8" fill="#0b9079"/>
<rect x="875.92" y="438.5" width="2.0" height="10.5" fill="#0b9079"/>
<rect x="879.03" y="430.8" width="0.8" height="14.7" fill="#0b9079"/>
<rect x="878.43" y="433.8" width="2.0" height="10.8" fill="#0b9079"/>
<rect x="881.54" y="430.0" width="0.8" height="16.0" fill="#e93e4b"/>
<rect x="880.94" y="434.6" width="2.0" height="3.9" fill="#e93e4b"/>
<rect x="884.05" y="380.0" width="0.8" height="59.0" fill="#0b9079"/>
<rect x="883.45" y="394.0" width="2.0" height="44.5" fill="#0b9079"/>
<rect x="886.56" y="381.0" width="0.8" height="26.7" fill="#e93e4b"/>
<rect x="885.96" y="394.0" width="2.0" height="9.0" fill="#e93e4b"/>
<rect x="889.07" y="382.0" width="0.8" height="28.0" fill="#e93e4b"/>
<rect x="888.47" y="396.0" width="2.0" height="8.0" fill="#e93e4b"/>
<rect x="891.57" y="400.0" width="0.8" height="7.0" fill="#e93e4b"/>
<rect x="890.97" y="403.0" width="2.0" height="2.0" fill="#e93e4b"/>
<rect x="894.08" y="376.0" width="0.8" height="30.0" fill="#0b9079"/>
<rect x="893.48" y="377.7" width="2.0" height="27.3" fill="#0b9079"/>
<rect x="896.59" y="269.0" width="0.8" height="112.0" fill="#0b9079"/>
<rect x="895.99" y="297.0" width="2.0" height="83.0" fill="#0b9079"/>
<rect x="899.10" y="264.7" width="0.8" height="70.2" fill="#e93e4b"/>
<rect x="898.50" y="297.0" width="2.0" height="17.8" fill="#e93e4b"/>
<rect x="901.61" y="276.0" width="0.8" height="55.8" fill="#0b9079"/>
<rect x="901.01" y="282.4" width="2.0" height="32.4" fill="#0b9079"/>
<rect x="904.12" y="195.0" width="0.8" height="106.0" fill="#0b9079"/>
<rect x="903.52" y="205.0" width="2.0" height="77.4" fill="#0b9079"/>
<rect x="906.63" y="144.8" width="0.8" height="113.1" fill="#e93e4b"/>
<rect x="906.03" y="205.0" width="2.0" height="19.7" fill="#e93e4b"/>
<rect x="909.14" y="165.6" width="0.8" height="74.4" fill="#0b9079"/>
<rect x="908.54" y="196.4" width="2.0" height="41.6" fill="#0b9079"/>
<rect x="911.65" y="186.0" width="0.8" height="47.0" fill="#e93e4b"/>
<rect x="911.05" y="195.0" width="2.0" height="5.0" fill="#e93e4b"/>
<rect x="914.16" y="164.0" width="0.8" height="46.0" fill="#0b9079"/>
<rect x="913.56" y="189.0" width="2.0" height="19.7" fill="#0b9079"/>
<rect x="916.66" y="187.0" width="0.8" height="49.0" fill="#e93e4b"/>
<rect x="916.06" y="189.0" width="2.0" height="22.0" fill="#e93e4b"/>
<rect x="919.17" y="209.0" width="0.8" height="104.0" fill="#e93e4b"/>
<rect x="918.57" y="211.0" width="2.0" height="62.0" fill="#e93e4b"/>
<rect x="921.68" y="245.0" width="0.8" height="30.0" fill="#0b9079"/>
<rect x="921.08" y="257.0" width="2.0" height="15.0" fill="#0b9079"/>
<rect x="924.19" y="208.0" width="0.8" height="54.0" fill="#0b9079"/>
<rect x="923.59" y="209.0" width="2.0" height="48.0" fill="#0b9079"/>
<rect x="926.70" y="131.0" width="0.8" height="80.0" fill="#0b9079"/>
<rect x="926.10" y="135.8" width="2.0" height="73.2" fill="#0b9079"/>
<rect x="929.21" y="88.8" width="0.8" height="118.2" fill="#e93e4b"/>
<rect x="928.61" y="135.8" width="2.0" height="40.2" fill="#e93e4b"/>
<rect x="931.72" y="162.0" width="0.8" height="24.0" fill="#e93e4b"/>
<rect x="931.12" y="174.6" width="2.0" height="9.2" fill="#e93e4b"/>
<rect x="934.23" y="168.8" width="0.8" height="63.2" fill="#e93e4b"/>
<rect x="933.63" y="182.0" width="2.0" height="34.0" fill="#e93e4b"/>
<rect x="936.74" y="197.7" width="0.8" height="35.3" fill="#e93e4b"/>
<rect x="936.14" y="216.0" width="2.0" height="15.5" fill="#e93e4b"/>
<rect x="939.25" y="230.0" width="0.8" height="28.0" fill="#e93e4b"/>
<rect x="938.64" y="231.5" width="2.0" height="20.0" fill="#e93e4b"/>
<rect x="941.75" y="244.6" width="0.8" height="23.1" fill="#0b9079"/>
<rect x="941.15" y="251.0" width="2.0" height="1.0" fill="#0b9079"/>
<line x1="6" y1="251.2" x2="968" y2="251.2" stroke="#3a8a7b" stroke-opacity="0.6" stroke-width="1" stroke-dasharray="1,1.05"/>
</svg>

<!-- legend -->
<svg class="a" style="left:13px;top:37px" width="13" height="13" viewBox="0 0 13 13"><circle cx="6.5" cy="6.5" r="6.5" fill="#131722"/><path d="M4 3.8 A3.6 3.6 0 0 0 4 9.2 M9 3.8 A3.6 3.6 0 0 1 9 9.2" fill="none" stroke="#9a9a9a" stroke-width="1"/><circle cx="6.5" cy="6.5" r="1.4" fill="none" stroke="#b0b0b0" stroke-width="0.9"/></svg>
<div class="a" style="left:29px;top:38px;font-size:11px;color:#131722;-webkit-text-stroke:0.2px #131722">ORDI / TetherUS · 1h · Binance</div>
<div class="a" style="left:191.7px;top:38.4px;width:10px;height:10px;border-radius:50%;background:#d6f3ec"></div>
<div class="a" style="left:194.1px;top:40.8px;width:5.2px;height:5.2px;border-radius:50%;background:#0a6a55"></div>
<div class="a ohlc" style="left:209px"><span style="color:#131722">O</span>7.737</div>
<div class="a ohlc" style="left:243px"><span style="color:#131722">H</span>7.872</div>
<div class="a ohlc" style="left:277px"><span style="color:#131722">L</span>7.445</div>
<div class="a ohlc" style="left:310px"><span style="color:#131722">C</span>7.751</div>
<div class="a ohlc" style="left:345px">+0.015 (+0.19%)</div>

<div class="a" style="left:13px;top:55px;width:40px;height:25px;border:1px solid #ec8a93;border-radius:4px"></div>
<div class="a" style="left:13px;top:56.3px;width:40px;text-align:center;font-size:9.5px;color:#e0485a">7.746</div>
<div class="a" style="left:13px;top:66.6px;width:40px;text-align:center;font-size:8.4px;letter-spacing:-0.3px;color:#e8848d">SELL</div>
<div class="a" style="left:58px;top:62.5px;font-size:7.5px;color:#131722">0.004</div>
<div class="a" style="left:82px;top:55px;width:40px;height:25px;border:1px solid #7f90e6;border-radius:4px"></div>
<div class="a" style="left:82px;top:56.3px;width:40px;text-align:center;font-size:9.5px;color:#4058dc">7.750</div>
<div class="a" style="left:82px;top:66.6px;width:40px;text-align:center;font-size:8.4px;letter-spacing:-0.3px;color:#6479d8">BUY</div>

<div class="a" style="left:13px;top:87px;font-size:9px;color:#131722">Vol · ORDI</div>
<div class="a" style="left:61px;top:87px;font-size:9px;letter-spacing:0.15px;color:#4fb6a3">367.18K</div>
<div class="a" style="left:13px;top:103px;width:20px;height:15px;border:1px solid #e0e3eb;border-radius:3px;background:#fff"></div>
<svg class="a" style="left:19px;top:107px" width="8" height="6" viewBox="0 0 8 6"><path d="M1 4.5 L4 1.5 L7 4.5" fill="none" stroke="#131722" stroke-width="1"/></svg>

<!-- TradingView logo -->
<svg class="a" style="left:15px;top:580.3px" width="22.5" height="17.5" viewBox="0 0 36 28"><path d="M14 22H7V11H0V4h14v18zM28 22h-8l7.5-18h8L28 22z" fill="#131722"/><circle cx="20" cy="8" r="4" fill="#131722"/></svg>
<div class="a" style="left:41.8px;top:579.3px;font-size:14.6px;font-weight:700;letter-spacing:0.3px;color:#131722">TradingView</div>

<!-- price axis labels -->
<div class="pl" style="top:40.1px">11.500</div>
<div class="pl" style="top:67.5px">11.000</div>
<div class="pl" style="top:95.0px">10.500</div>
<div class="pl" style="top:122.4px">10.000</div>
<div class="pl" style="top:149.8px">9.500</div>
<div class="pl" style="top:177.3px">9.000</div>
<div class="pl" style="top:204.7px">8.500</div>
<div class="pl" style="top:232.1px">8.000</div>
<div class="pl" style="top:287.0px">7.000</div>
<div class="pl" style="top:314.4px">6.500</div>
<div class="pl" style="top:341.9px">6.000</div>
<div class="pl" style="top:369.3px">5.500</div>
<div class="pl" style="top:396.8px">5.000</div>
<div class="pl" style="top:424.2px">4.500</div>
<div class="pl" style="top:451.6px">4.000</div>
<div class="pl" style="top:479.1px">3.500</div>
<div class="pl" style="top:506.5px">3.000</div>
<div class="pl" style="top:533.9px">2.500</div>
<div class="pl" style="top:561.4px">2.000</div>
<div class="pl" style="top:588.8px">1.500</div>
<!-- current price label -->
<div class="a" style="left:969px;top:246px;width:31px;height:22px;background:#089981;border-radius:1px"></div>
<div class="a" style="left:974.3px;top:246.4px;font-size:9.7px;color:#fff;-webkit-text-stroke:0.2px #fff;letter-spacing:-0.3px">7.751</div>
<div class="a" style="left:974.5px;top:256.7px;font-size:9.7px;color:#fff;-webkit-text-stroke:0.1px #fff;letter-spacing:-0.3px">42:05</div>
<!-- volume label -->
<div class="a" style="left:969px;top:582px;width:42px;height:12px;background:#22ab94"></div>
<div class="a" style="left:974.6px;top:582.6px;font-size:9.6px;color:#fff;-webkit-text-stroke:0.15px #fff;transform:scaleX(0.88);transform-origin:0 0">367.18<span style="margin-left:1.6px">K</span></div>

<!-- lightning -->
<svg class="a" style="left:934px;top:586px" width="17" height="17" viewBox="0 0 17 17"><circle cx="8.5" cy="8.3" r="7" fill="#fdf6fd" stroke="#6f3480" stroke-width="1.2"/><path d="M10.6 4.6 L5.8 9.2 H8.4 L6.4 12.4 L11.2 7.8 H8.6 Z" fill="#8e24aa"/></svg>

<!-- settings hex -->
<svg class="a" style="left:985.5px;top:608.8px" width="12" height="10" viewBox="0 0 12 10"><path d="M3.3 0.6 H8.5 L11 5 L8.5 9.4 H3.3 L0.8 5 Z" fill="none" stroke="#131722" stroke-width="1"/><circle cx="5.9" cy="5" r="1.4" fill="none" stroke="#131722" stroke-width="1"/></svg>

<!-- time axis -->
<div class="tl" style="left:8.4px">2</div>
<div class="tl" style="left:68.6px">3</div>
<div class="tl" style="left:128.8px">4</div>
<div class="tl" style="left:189.1px">5</div>
<div class="tl" style="left:249.3px">6</div>
<div class="tl" style="left:309.5px">7</div>
<div class="tl" style="left:369.7px">8</div>
<div class="tl" style="left:429.9px">9</div>
<div class="tl" style="left:490.2px">10</div>
<div class="tl" style="left:550.4px">11</div>
<div class="tl" style="left:610.6px">12</div>
<div class="tl" style="left:670.8px">13</div>
<div class="tl" style="left:731.0px">14</div>
<div class="tl" style="left:791.3px">15</div>
<div class="tl" style="left:851.5px">16</div>
<div class="tl" style="left:911.7px">17</div>
<div class="a" style="left:6px;top:624px;width:1009px;height:1px;background:#e9e9ec"></div>
<div class="a" style="left:1017px;top:72px;width:7px;height:9px;background:#e2e2e5"></div>
<div class="a" style="left:1017px;top:341px;width:7px;height:2px;background:#eeeef0"></div>
<div class="a" style="left:1017px;top:592px;width:5px;height:15px;background:#f7f7f8;border:1px solid #ececee;border-left:none;border-radius:0 2px 2px 0"></div><svg class="a" style="left:1018px;top:596px" width="4" height="7" viewBox="0 0 4 7"><path d="M1 1l2 2.5L1 6" fill="none" stroke="#c8cad0" stroke-width="0.8"/></svg>

<!-- bottom bar -->
<div class="bb" style="left:17px">1D</div>
<div class="bb" style="left:37px">5D</div>
<div class="bb" style="left:58px">1M</div>
<div class="bb" style="left:78px">3M</div>
<div class="bb" style="left:99px">6M</div>
<div class="bb" style="left:121px">YTD</div>
<div class="bb" style="left:148px">1Y</div>
<div class="bb" style="left:167.4px;letter-spacing:0.2px">All</div>
<div class="a" style="left:187px;top:631px;width:1px;height:15px;background:#e9e9ec"></div>
<svg class="a" style="left:196px;top:631px" width="15" height="14" viewBox="0 0 15 14"><path d="M1 5V2.5h13V13H5" fill="none" stroke="#131722" stroke-width="1"/><path d="M4 0.5v3.5M11 0.5v3.5M1 5h13" stroke="#131722"/><path d="M0.5 10.5h5M3.5 8.5l2 2-2 2" fill="none" stroke="#131722"/></svg>
<div class="a" style="left:946.3px;top:632.5px;font-size:9.8px;color:#131722;-webkit-text-stroke:0.2px #131722">06:17:56 UTC</div>
</body></html>
